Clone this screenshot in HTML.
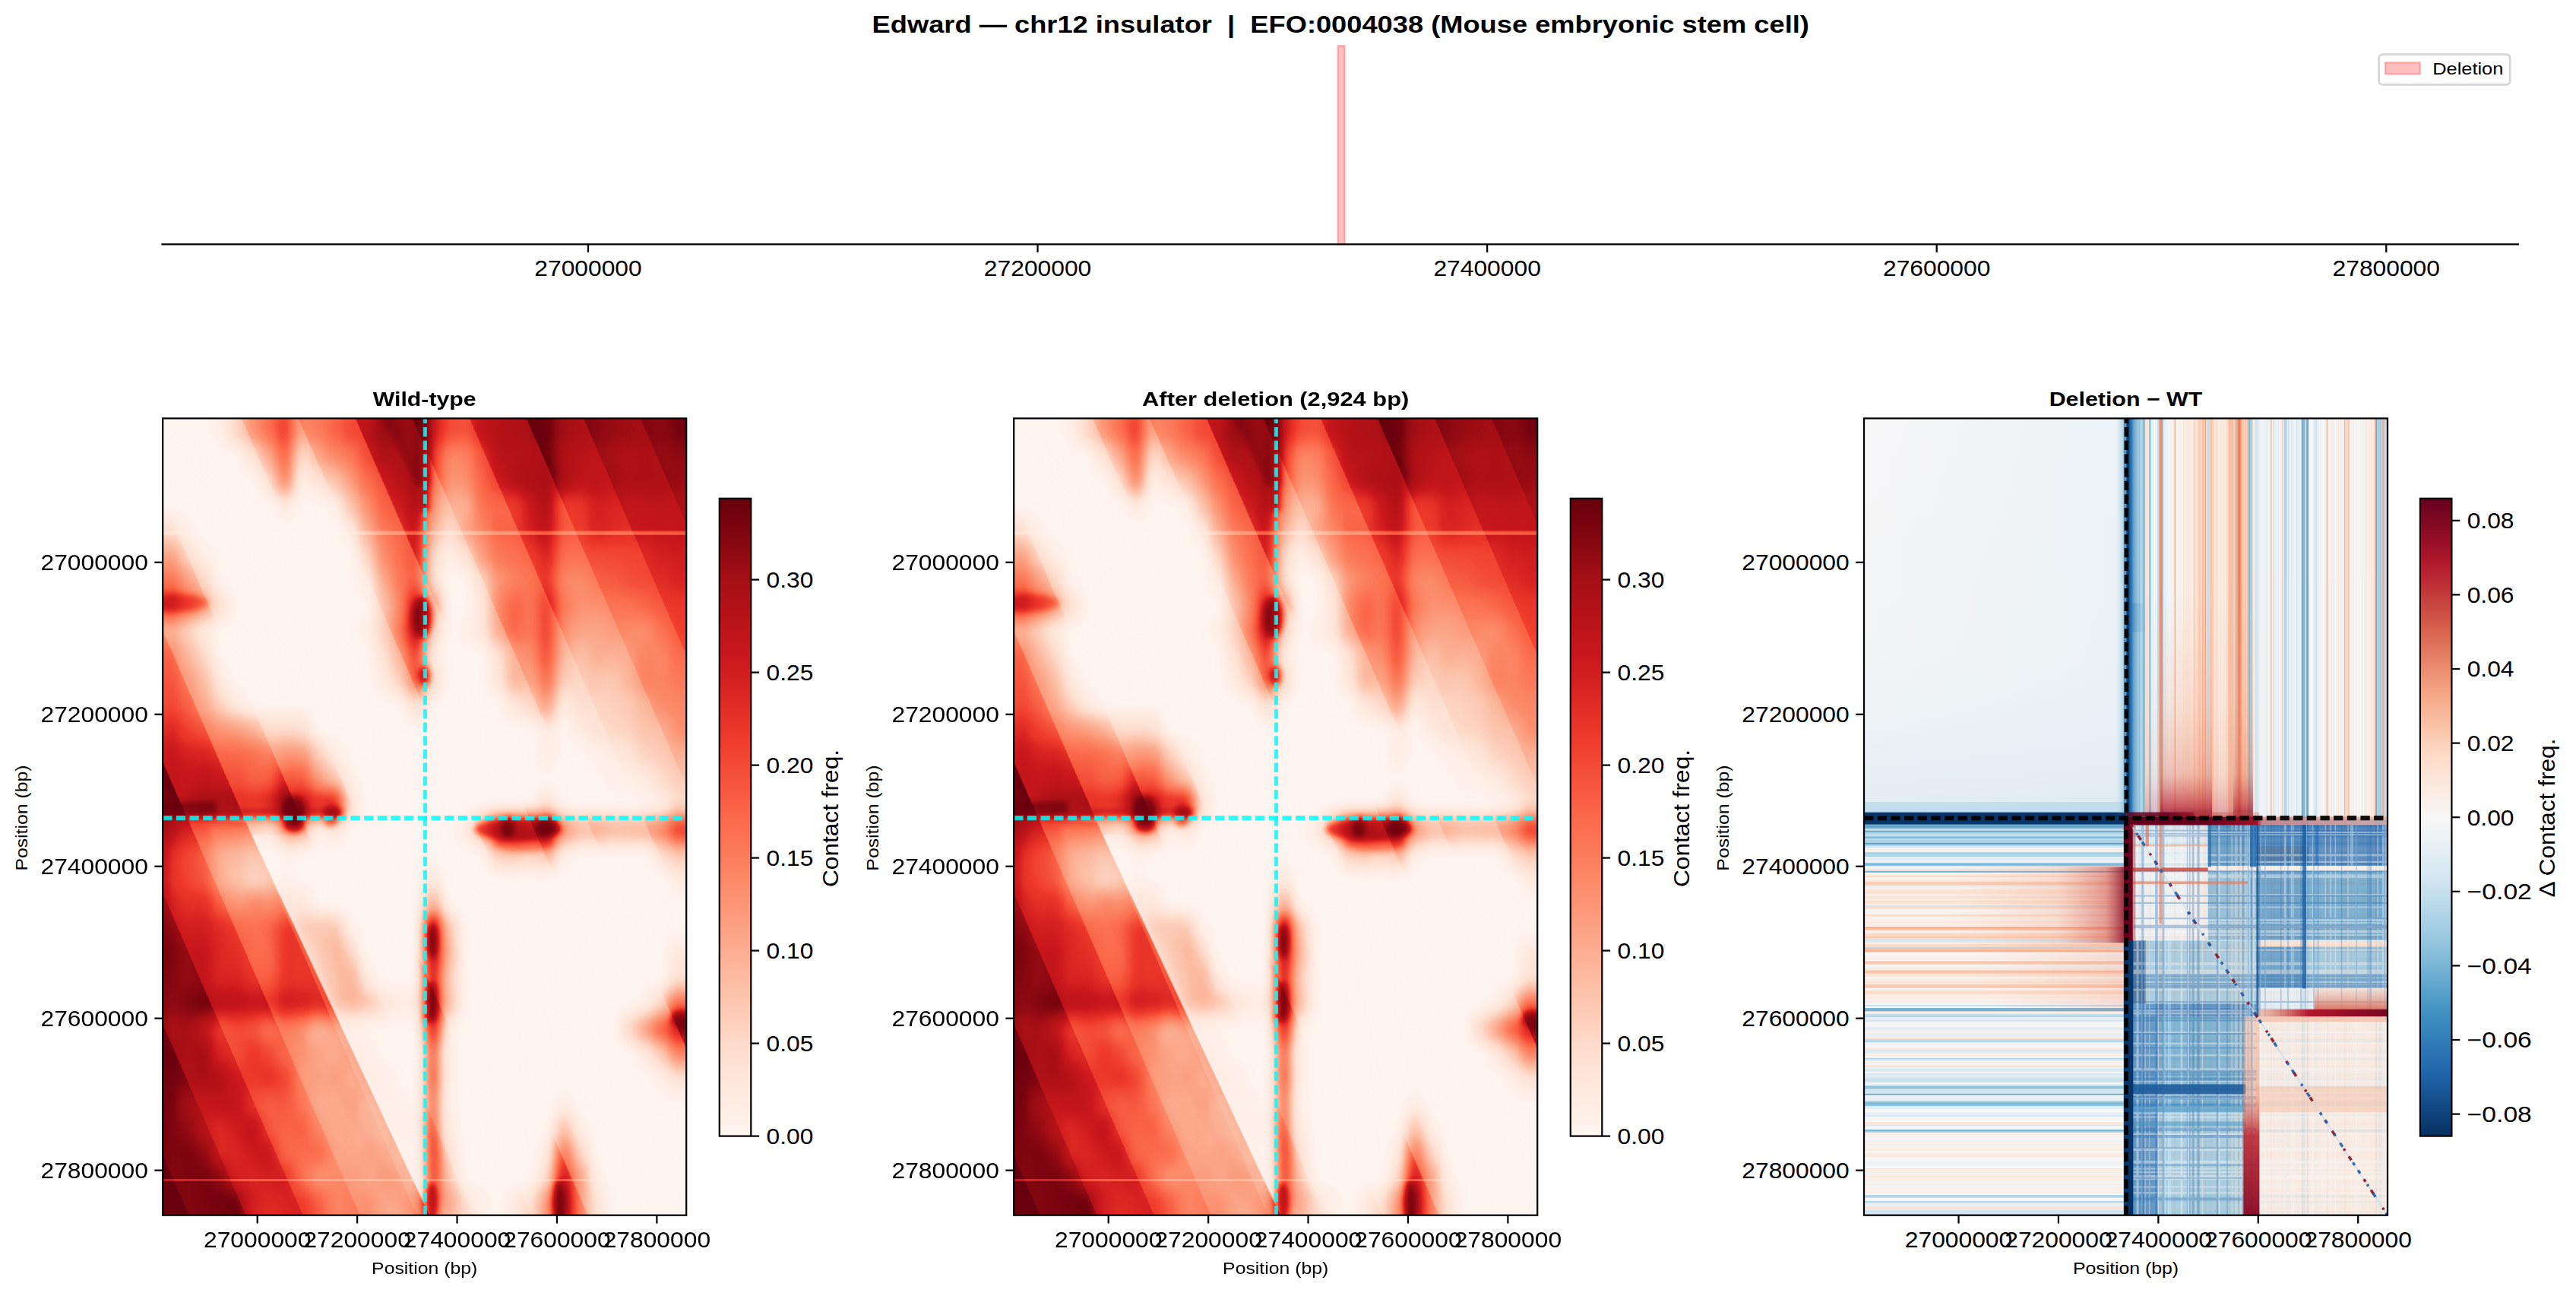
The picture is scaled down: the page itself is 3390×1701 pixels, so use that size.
<!DOCTYPE html>
<html><head><meta charset="utf-8"><title>chr12 insulator</title>
<style>html,body{margin:0;padding:0;background:#fff;overflow:hidden}svg{display:block}text{font-family:"Liberation Sans",sans-serif;fill:#000;white-space:pre}</style></head>
<body>
<svg width="3390" height="1701" viewBox="0 0 3390 1701">
<defs>
<clipPath id="cp"><rect x="0" y="0" width="689.00" height="1048.30"/></clipPath>
<filter id="bl" x="-10%" y="-10%" width="120%" height="120%" color-interpolation-filters="sRGB"><feGaussianBlur stdDeviation="7.75 11.79"/></filter>
<filter id="cmR" filterUnits="userSpaceOnUse" x="-5" y="-5" width="699.0" height="1058.3" color-interpolation-filters="sRGB"><feComponentTransfer><feFuncR type="table" tableValues="0.4039 0.4421 0.4802 0.5183 0.5641 0.6022 0.6404 0.6710 0.6944 0.7178 0.7458 0.7692 0.7926 0.8193 0.8415 0.8636 0.8902 0.9123 0.9345 0.9452 0.9526 0.9600 0.9688 0.9762 0.9836 0.9850 0.9856 0.9862 0.9870 0.9876 0.9882 0.9882 0.9882 0.9882 0.9882 0.9882 0.9882 0.9897 0.9909 0.9921 0.9936 0.9948 0.9960 0.9968 0.9974 0.9980 0.9988 0.9994 1.0000"/><feFuncG type="table" tableValues="0.0000 0.0092 0.0185 0.0277 0.0388 0.0480 0.0572 0.0645 0.0700 0.0756 0.0822 0.0878 0.0933 0.1167 0.1383 0.1598 0.1856 0.2072 0.2287 0.2625 0.2914 0.3203 0.3550 0.3839 0.4128 0.4428 0.4674 0.4920 0.5215 0.5461 0.5707 0.6009 0.6261 0.6514 0.6816 0.7069 0.7321 0.7595 0.7823 0.8050 0.8323 0.8551 0.8779 0.8936 0.9065 0.9194 0.9349 0.9479 0.9608"/><feFuncB type="table" tableValues="0.0510 0.0559 0.0608 0.0657 0.0716 0.0766 0.0815 0.0874 0.0923 0.0972 0.1031 0.1081 0.1130 0.1234 0.1326 0.1419 0.1529 0.1622 0.1714 0.1924 0.2108 0.2293 0.2514 0.2699 0.2884 0.3173 0.3419 0.3665 0.3960 0.4206 0.4452 0.4796 0.5085 0.5374 0.5721 0.6010 0.6299 0.6660 0.6962 0.7263 0.7625 0.7926 0.8228 0.8452 0.8637 0.8821 0.9043 0.9227 0.9412"/></feComponentTransfer></filter>
<filter id="b3" x="-50%" y="-50%" width="200%" height="200%" color-interpolation-filters="sRGB"><feGaussianBlur stdDeviation="3.5"/></filter>
<filter id="b6" x="-50%" y="-50%" width="200%" height="200%" color-interpolation-filters="sRGB"><feGaussianBlur stdDeviation="6"/></filter>
<linearGradient id="sawU" gradientUnits="userSpaceOnUse" x1="28.60" y1="0" x2="91.68" y2="-27.42" spreadMethod="repeat"><stop offset="0" stop-color="#fff" stop-opacity="0"/><stop offset="1" stop-color="#fff" stop-opacity="0.25"/></linearGradient>
<linearGradient id="sawL" gradientUnits="userSpaceOnUse" x1="28.60" y1="0" x2="91.68" y2="-27.42" spreadMethod="repeat"><stop offset="0" stop-color="#fff" stop-opacity="0.25"/><stop offset="1" stop-color="#fff" stop-opacity="0"/></linearGradient>
<linearGradient id="sawMg" gradientUnits="userSpaceOnUse" x1="344.5" y1="524" x2="825.5" y2="207.6" spreadMethod="reflect"><stop offset="0" stop-color="#fff"/><stop offset="0.35" stop-color="#fff"/><stop offset="1" stop-color="#2a2a2a"/></linearGradient>
<mask id="sawM" maskUnits="userSpaceOnUse" x="0" y="0" width="689.0" height="1048.3"><rect x="0" y="0" width="689.0" height="1048.3" fill="url(#sawMg)"/></mask>
<linearGradient id="weW" gradientUnits="userSpaceOnUse" x1="109.4" y1="531.7" x2="150.2" y2="512.6"><stop offset="0" stop-color="#fff" stop-opacity="0.7"/><stop offset="1" stop-color="#fff" stop-opacity="0"/></linearGradient>
<linearGradient id="weK" gradientUnits="userSpaceOnUse" x1="109.4" y1="531.7" x2="68.6" y2="550.8"><stop offset="0" stop-color="#000" stop-opacity="0.2"/><stop offset="1" stop-color="#000" stop-opacity="0"/></linearGradient>
<g id="hm1" clip-path="url(#cp)"><g filter="url(#cmR)"><rect x="-5" y="-5" width="699.0" height="1058.3" fill="#fff"/><g filter="url(#bl)"><path fill="#ffffff" d="M-64.9 -98.6h65.2v98.9h-65.2zM-0.3 -98.6h22.1v98.9h-22.1zM21.2 -98.6h22.1v98.9h-22.1zM42.8 -98.6h22.1v98.9h-22.1zM-64.9 -0.3h65.2v33.4h-65.2zM-0.3 -0.3h22.1v33.4h-22.1zM21.2 -0.3h22.1v33.4h-22.1zM42.8 -0.3h22.1v33.4h-22.1zM-64.9 32.5h65.2v33.4h-65.2zM-0.3 32.5h22.1v33.4h-22.1zM21.2 32.5h22.1v33.4h-22.1zM42.8 32.5h22.1v33.4h-22.1zM64.3 32.5h22.1v33.4h-22.1zM85.8 32.5h22.1v33.4h-22.1zM-64.9 65.2h65.2v33.4h-65.2zM-0.3 65.2h22.1v33.4h-22.1zM21.2 65.2h22.1v33.4h-22.1zM42.8 65.2h22.1v33.4h-22.1zM64.3 65.2h22.1v33.4h-22.1zM85.8 65.2h22.1v33.4h-22.1zM107.4 65.2h22.1v33.4h-22.1zM-64.9 98.0h65.2v33.4h-65.2zM-0.3 98.0h22.1v33.4h-22.1zM21.2 98.0h22.1v33.4h-22.1zM42.8 98.0h22.1v33.4h-22.1zM64.3 98.0h22.1v33.4h-22.1zM85.8 98.0h22.1v33.4h-22.1zM107.4 98.0h22.1v33.4h-22.1zM128.9 98.0h22.1v33.4h-22.1zM171.9 98.0h22.1v33.4h-22.1zM193.5 98.0h22.1v33.4h-22.1zM42.8 130.7h22.1v33.4h-22.1zM64.3 130.7h22.1v33.4h-22.1zM85.8 130.7h22.1v33.4h-22.1zM107.4 130.7h22.1v33.4h-22.1zM128.9 130.7h22.1v33.4h-22.1zM150.4 130.7h22.1v33.4h-22.1zM171.9 130.7h22.1v33.4h-22.1zM193.5 130.7h22.1v33.4h-22.1zM215.0 130.7h22.1v33.4h-22.1zM64.3 163.5h22.1v33.4h-22.1zM85.8 163.5h22.1v33.4h-22.1zM107.4 163.5h22.1v33.4h-22.1zM128.9 163.5h22.1v33.4h-22.1zM150.4 163.5h22.1v33.4h-22.1zM171.9 163.5h22.1v33.4h-22.1zM193.5 163.5h22.1v33.4h-22.1zM215.0 163.5h22.1v33.4h-22.1zM236.5 163.5h22.1v33.4h-22.1zM64.3 196.3h22.1v33.4h-22.1zM85.8 196.3h22.1v33.4h-22.1zM107.4 196.3h22.1v33.4h-22.1zM128.9 196.3h22.1v33.4h-22.1zM150.4 196.3h22.1v33.4h-22.1zM171.9 196.3h22.1v33.4h-22.1zM193.5 196.3h22.1v33.4h-22.1zM215.0 196.3h22.1v33.4h-22.1zM236.5 196.3h22.1v33.4h-22.1zM365.7 196.3h22.1v33.4h-22.1zM387.3 196.3h22.1v33.4h-22.1zM85.8 229.0h22.1v33.4h-22.1zM107.4 229.0h22.1v33.4h-22.1zM128.9 229.0h22.1v33.4h-22.1zM150.4 229.0h22.1v33.4h-22.1zM171.9 229.0h22.1v33.4h-22.1zM193.5 229.0h22.1v33.4h-22.1zM215.0 229.0h22.1v33.4h-22.1zM236.5 229.0h22.1v33.4h-22.1zM258.1 229.0h22.1v33.4h-22.1zM365.7 229.0h22.1v33.4h-22.1zM387.3 229.0h22.1v33.4h-22.1zM64.3 261.8h22.1v33.4h-22.1zM85.8 261.8h22.1v33.4h-22.1zM107.4 261.8h22.1v33.4h-22.1zM128.9 261.8h22.1v33.4h-22.1zM150.4 261.8h22.1v33.4h-22.1zM171.9 261.8h22.1v33.4h-22.1zM193.5 261.8h22.1v33.4h-22.1zM215.0 261.8h22.1v33.4h-22.1zM236.5 261.8h22.1v33.4h-22.1zM365.7 261.8h22.1v33.4h-22.1zM64.3 294.5h22.1v33.4h-22.1zM85.8 294.5h22.1v33.4h-22.1zM107.4 294.5h22.1v33.4h-22.1zM128.9 294.5h22.1v33.4h-22.1zM150.4 294.5h22.1v33.4h-22.1zM171.9 294.5h22.1v33.4h-22.1zM193.5 294.5h22.1v33.4h-22.1zM215.0 294.5h22.1v33.4h-22.1zM236.5 294.5h22.1v33.4h-22.1zM258.1 294.5h22.1v33.4h-22.1zM365.7 294.5h22.1v33.4h-22.1zM387.3 294.5h22.1v33.4h-22.1zM408.8 294.5h22.1v33.4h-22.1zM85.8 327.3h22.1v33.4h-22.1zM107.4 327.3h22.1v33.4h-22.1zM128.9 327.3h22.1v33.4h-22.1zM150.4 327.3h22.1v33.4h-22.1zM171.9 327.3h22.1v33.4h-22.1zM193.5 327.3h22.1v33.4h-22.1zM215.0 327.3h22.1v33.4h-22.1zM236.5 327.3h22.1v33.4h-22.1zM258.1 327.3h22.1v33.4h-22.1zM365.7 327.3h22.1v33.4h-22.1zM387.3 327.3h22.1v33.4h-22.1zM408.8 327.3h22.1v33.4h-22.1zM107.4 360.1h22.1v33.4h-22.1zM128.9 360.1h22.1v33.4h-22.1zM150.4 360.1h22.1v33.4h-22.1zM171.9 360.1h22.1v33.4h-22.1zM193.5 360.1h22.1v33.4h-22.1zM215.0 360.1h22.1v33.4h-22.1zM236.5 360.1h22.1v33.4h-22.1zM258.1 360.1h22.1v33.4h-22.1zM279.6 360.1h22.1v33.4h-22.1zM301.1 360.1h22.1v33.4h-22.1zM344.2 360.1h22.1v33.4h-22.1zM365.7 360.1h22.1v33.4h-22.1zM387.3 360.1h22.1v33.4h-22.1zM408.8 360.1h22.1v33.4h-22.1zM430.3 360.1h22.1v33.4h-22.1zM193.5 392.8h22.1v33.4h-22.1zM215.0 392.8h22.1v33.4h-22.1zM236.5 392.8h22.1v33.4h-22.1zM258.1 392.8h22.1v33.4h-22.1zM279.6 392.8h22.1v33.4h-22.1zM301.1 392.8h22.1v33.4h-22.1zM322.7 392.8h22.1v33.4h-22.1zM344.2 392.8h22.1v33.4h-22.1zM365.7 392.8h22.1v33.4h-22.1zM387.3 392.8h22.1v33.4h-22.1zM408.8 392.8h22.1v33.4h-22.1zM430.3 392.8h22.1v33.4h-22.1zM451.9 392.8h22.1v33.4h-22.1zM473.4 392.8h22.1v33.4h-22.1zM516.5 392.8h22.1v33.4h-22.1zM236.5 425.6h22.1v33.4h-22.1zM258.1 425.6h22.1v33.4h-22.1zM279.6 425.6h22.1v33.4h-22.1zM301.1 425.6h22.1v33.4h-22.1zM322.7 425.6h22.1v33.4h-22.1zM344.2 425.6h22.1v33.4h-22.1zM365.7 425.6h22.1v33.4h-22.1zM387.3 425.6h22.1v33.4h-22.1zM408.8 425.6h22.1v33.4h-22.1zM430.3 425.6h22.1v33.4h-22.1zM451.9 425.6h22.1v33.4h-22.1zM473.4 425.6h22.1v33.4h-22.1zM516.5 425.6h22.1v33.4h-22.1zM538.0 425.6h22.1v33.4h-22.1zM258.1 458.3h22.1v33.4h-22.1zM279.6 458.3h22.1v33.4h-22.1zM301.1 458.3h22.1v33.4h-22.1zM322.7 458.3h22.1v33.4h-22.1zM344.2 458.3h22.1v33.4h-22.1zM365.7 458.3h22.1v33.4h-22.1zM387.3 458.3h22.1v33.4h-22.1zM408.8 458.3h22.1v33.4h-22.1zM430.3 458.3h22.1v33.4h-22.1zM451.9 458.3h22.1v33.4h-22.1zM473.4 458.3h22.1v33.4h-22.1zM494.9 458.3h22.1v33.4h-22.1zM516.5 458.3h22.1v33.4h-22.1zM538.0 458.3h22.1v33.4h-22.1zM559.5 458.3h22.1v33.4h-22.1zM258.1 491.1h22.1v33.4h-22.1zM279.6 491.1h22.1v33.4h-22.1zM301.1 491.1h22.1v33.4h-22.1zM322.7 491.1h22.1v33.4h-22.1zM344.2 491.1h22.1v33.4h-22.1zM365.7 491.1h22.1v33.4h-22.1zM387.3 491.1h22.1v33.4h-22.1zM408.8 491.1h22.1v33.4h-22.1zM430.3 491.1h22.1v33.4h-22.1zM451.9 491.1h22.1v33.4h-22.1zM473.4 491.1h22.1v33.4h-22.1zM516.5 491.1h22.1v33.4h-22.1zM538.0 491.1h22.1v33.4h-22.1zM559.5 491.1h22.1v33.4h-22.1zM581.0 491.1h22.1v33.4h-22.1zM602.6 491.1h22.1v33.4h-22.1zM624.1 491.1h22.1v33.4h-22.1zM236.5 523.9h22.1v33.4h-22.1zM258.1 523.9h22.1v33.4h-22.1zM279.6 523.9h22.1v33.4h-22.1zM301.1 523.9h22.1v33.4h-22.1zM322.7 523.9h22.1v33.4h-22.1zM344.2 523.9h22.1v33.4h-22.1zM365.7 523.9h22.1v33.4h-22.1zM128.9 556.6h22.1v33.4h-22.1zM171.9 556.6h22.1v33.4h-22.1zM193.5 556.6h22.1v33.4h-22.1zM215.0 556.6h22.1v33.4h-22.1zM236.5 556.6h22.1v33.4h-22.1zM258.1 556.6h22.1v33.4h-22.1zM279.6 556.6h22.1v33.4h-22.1zM301.1 556.6h22.1v33.4h-22.1zM322.7 556.6h22.1v33.4h-22.1zM344.2 556.6h22.1v33.4h-22.1zM365.7 556.6h22.1v33.4h-22.1zM387.3 556.6h22.1v33.4h-22.1zM408.8 556.6h22.1v33.4h-22.1zM538.0 556.6h22.1v33.4h-22.1zM559.5 556.6h22.1v33.4h-22.1zM581.0 556.6h22.1v33.4h-22.1zM602.6 556.6h22.1v33.4h-22.1zM624.1 556.6h22.1v33.4h-22.1zM128.9 589.4h22.1v33.4h-22.1zM171.9 589.4h22.1v33.4h-22.1zM193.5 589.4h22.1v33.4h-22.1zM215.0 589.4h22.1v33.4h-22.1zM236.5 589.4h22.1v33.4h-22.1zM258.1 589.4h22.1v33.4h-22.1zM279.6 589.4h22.1v33.4h-22.1zM301.1 589.4h22.1v33.4h-22.1zM322.7 589.4h22.1v33.4h-22.1zM365.7 589.4h22.1v33.4h-22.1zM387.3 589.4h22.1v33.4h-22.1zM408.8 589.4h22.1v33.4h-22.1zM430.3 589.4h22.1v33.4h-22.1zM451.9 589.4h22.1v33.4h-22.1zM473.4 589.4h22.1v33.4h-22.1zM494.9 589.4h22.1v33.4h-22.1zM516.5 589.4h22.1v33.4h-22.1zM538.0 589.4h22.1v33.4h-22.1zM559.5 589.4h22.1v33.4h-22.1zM581.0 589.4h22.1v33.4h-22.1zM602.6 589.4h22.1v33.4h-22.1zM624.1 589.4h22.1v33.4h-22.1zM645.6 589.4h22.1v33.4h-22.1zM193.5 622.1h22.1v33.4h-22.1zM215.0 622.1h22.1v33.4h-22.1zM236.5 622.1h22.1v33.4h-22.1zM258.1 622.1h22.1v33.4h-22.1zM279.6 622.1h22.1v33.4h-22.1zM301.1 622.1h22.1v33.4h-22.1zM322.7 622.1h22.1v33.4h-22.1zM365.7 622.1h22.1v33.4h-22.1zM387.3 622.1h22.1v33.4h-22.1zM408.8 622.1h22.1v33.4h-22.1zM430.3 622.1h22.1v33.4h-22.1zM451.9 622.1h22.1v33.4h-22.1zM473.4 622.1h22.1v33.4h-22.1zM494.9 622.1h22.1v33.4h-22.1zM516.5 622.1h22.1v33.4h-22.1zM538.0 622.1h22.1v33.4h-22.1zM559.5 622.1h22.1v33.4h-22.1zM581.0 622.1h22.1v33.4h-22.1zM602.6 622.1h22.1v33.4h-22.1zM624.1 622.1h22.1v33.4h-22.1zM645.6 622.1h22.1v33.4h-22.1zM667.2 622.1h22.1v33.4h-22.1zM688.7 622.1h65.2v33.4h-65.2zM258.1 654.9h22.1v33.4h-22.1zM279.6 654.9h22.1v33.4h-22.1zM301.1 654.9h22.1v33.4h-22.1zM322.7 654.9h22.1v33.4h-22.1zM387.3 654.9h22.1v33.4h-22.1zM408.8 654.9h22.1v33.4h-22.1zM430.3 654.9h22.1v33.4h-22.1zM451.9 654.9h22.1v33.4h-22.1zM473.4 654.9h22.1v33.4h-22.1zM494.9 654.9h22.1v33.4h-22.1zM516.5 654.9h22.1v33.4h-22.1zM538.0 654.9h22.1v33.4h-22.1zM559.5 654.9h22.1v33.4h-22.1zM581.0 654.9h22.1v33.4h-22.1zM602.6 654.9h22.1v33.4h-22.1zM624.1 654.9h22.1v33.4h-22.1zM645.6 654.9h22.1v33.4h-22.1zM667.2 654.9h22.1v33.4h-22.1zM688.7 654.9h65.2v33.4h-65.2zM258.1 687.6h22.1v33.4h-22.1zM279.6 687.6h22.1v33.4h-22.1zM301.1 687.6h22.1v33.4h-22.1zM322.7 687.6h22.1v33.4h-22.1zM387.3 687.6h22.1v33.4h-22.1zM408.8 687.6h22.1v33.4h-22.1zM430.3 687.6h22.1v33.4h-22.1zM451.9 687.6h22.1v33.4h-22.1zM473.4 687.6h22.1v33.4h-22.1zM494.9 687.6h22.1v33.4h-22.1zM516.5 687.6h22.1v33.4h-22.1zM538.0 687.6h22.1v33.4h-22.1zM559.5 687.6h22.1v33.4h-22.1zM581.0 687.6h22.1v33.4h-22.1zM602.6 687.6h22.1v33.4h-22.1zM624.1 687.6h22.1v33.4h-22.1zM645.6 687.6h22.1v33.4h-22.1zM279.6 720.4h22.1v33.4h-22.1zM301.1 720.4h22.1v33.4h-22.1zM322.7 720.4h22.1v33.4h-22.1zM387.3 720.4h22.1v33.4h-22.1zM408.8 720.4h22.1v33.4h-22.1zM430.3 720.4h22.1v33.4h-22.1zM451.9 720.4h22.1v33.4h-22.1zM473.4 720.4h22.1v33.4h-22.1zM494.9 720.4h22.1v33.4h-22.1zM516.5 720.4h22.1v33.4h-22.1zM538.0 720.4h22.1v33.4h-22.1zM559.5 720.4h22.1v33.4h-22.1zM581.0 720.4h22.1v33.4h-22.1zM602.6 720.4h22.1v33.4h-22.1zM624.1 720.4h22.1v33.4h-22.1zM645.6 720.4h22.1v33.4h-22.1zM387.3 753.2h22.1v33.4h-22.1zM408.8 753.2h22.1v33.4h-22.1zM430.3 753.2h22.1v33.4h-22.1zM451.9 753.2h22.1v33.4h-22.1zM473.4 753.2h22.1v33.4h-22.1zM494.9 753.2h22.1v33.4h-22.1zM516.5 753.2h22.1v33.4h-22.1zM538.0 753.2h22.1v33.4h-22.1zM559.5 753.2h22.1v33.4h-22.1zM581.0 753.2h22.1v33.4h-22.1zM602.6 753.2h22.1v33.4h-22.1zM258.1 785.9h22.1v33.4h-22.1zM279.6 785.9h22.1v33.4h-22.1zM301.1 785.9h22.1v33.4h-22.1zM322.7 785.9h22.1v33.4h-22.1zM387.3 785.9h22.1v33.4h-22.1zM408.8 785.9h22.1v33.4h-22.1zM430.3 785.9h22.1v33.4h-22.1zM451.9 785.9h22.1v33.4h-22.1zM473.4 785.9h22.1v33.4h-22.1zM494.9 785.9h22.1v33.4h-22.1zM516.5 785.9h22.1v33.4h-22.1zM538.0 785.9h22.1v33.4h-22.1zM559.5 785.9h22.1v33.4h-22.1zM581.0 785.9h22.1v33.4h-22.1zM279.6 818.7h22.1v33.4h-22.1zM301.1 818.7h22.1v33.4h-22.1zM322.7 818.7h22.1v33.4h-22.1zM387.3 818.7h22.1v33.4h-22.1zM408.8 818.7h22.1v33.4h-22.1zM430.3 818.7h22.1v33.4h-22.1zM451.9 818.7h22.1v33.4h-22.1zM473.4 818.7h22.1v33.4h-22.1zM494.9 818.7h22.1v33.4h-22.1zM516.5 818.7h22.1v33.4h-22.1zM538.0 818.7h22.1v33.4h-22.1zM559.5 818.7h22.1v33.4h-22.1zM581.0 818.7h22.1v33.4h-22.1zM602.6 818.7h22.1v33.4h-22.1zM301.1 851.4h22.1v33.4h-22.1zM322.7 851.4h22.1v33.4h-22.1zM387.3 851.4h22.1v33.4h-22.1zM408.8 851.4h22.1v33.4h-22.1zM430.3 851.4h22.1v33.4h-22.1zM451.9 851.4h22.1v33.4h-22.1zM473.4 851.4h22.1v33.4h-22.1zM494.9 851.4h22.1v33.4h-22.1zM516.5 851.4h22.1v33.4h-22.1zM538.0 851.4h22.1v33.4h-22.1zM559.5 851.4h22.1v33.4h-22.1zM581.0 851.4h22.1v33.4h-22.1zM602.6 851.4h22.1v33.4h-22.1zM624.1 851.4h22.1v33.4h-22.1zM322.7 884.2h22.1v33.4h-22.1zM387.3 884.2h22.1v33.4h-22.1zM408.8 884.2h22.1v33.4h-22.1zM430.3 884.2h22.1v33.4h-22.1zM451.9 884.2h22.1v33.4h-22.1zM473.4 884.2h22.1v33.4h-22.1zM494.9 884.2h22.1v33.4h-22.1zM538.0 884.2h22.1v33.4h-22.1zM559.5 884.2h22.1v33.4h-22.1zM581.0 884.2h22.1v33.4h-22.1zM602.6 884.2h22.1v33.4h-22.1zM624.1 884.2h22.1v33.4h-22.1zM645.6 884.2h22.1v33.4h-22.1zM667.2 884.2h22.1v33.4h-22.1zM688.7 884.2h65.2v33.4h-65.2zM387.3 917.0h22.1v33.4h-22.1zM408.8 917.0h22.1v33.4h-22.1zM430.3 917.0h22.1v33.4h-22.1zM451.9 917.0h22.1v33.4h-22.1zM473.4 917.0h22.1v33.4h-22.1zM494.9 917.0h22.1v33.4h-22.1zM559.5 917.0h22.1v33.4h-22.1zM581.0 917.0h22.1v33.4h-22.1zM602.6 917.0h22.1v33.4h-22.1zM624.1 917.0h22.1v33.4h-22.1zM645.6 917.0h22.1v33.4h-22.1zM667.2 917.0h22.1v33.4h-22.1zM688.7 917.0h65.2v33.4h-65.2zM322.7 949.7h22.1v33.4h-22.1zM387.3 949.7h22.1v33.4h-22.1zM408.8 949.7h22.1v33.4h-22.1zM430.3 949.7h22.1v33.4h-22.1zM451.9 949.7h22.1v33.4h-22.1zM473.4 949.7h22.1v33.4h-22.1zM559.5 949.7h22.1v33.4h-22.1zM581.0 949.7h22.1v33.4h-22.1zM602.6 949.7h22.1v33.4h-22.1zM624.1 949.7h22.1v33.4h-22.1zM645.6 949.7h22.1v33.4h-22.1zM667.2 949.7h22.1v33.4h-22.1zM688.7 949.7h65.2v33.4h-65.2zM387.3 982.5h22.1v33.4h-22.1zM408.8 982.5h22.1v33.4h-22.1zM430.3 982.5h22.1v33.4h-22.1zM451.9 982.5h22.1v33.4h-22.1zM473.4 982.5h22.1v33.4h-22.1zM581.0 982.5h22.1v33.4h-22.1zM602.6 982.5h22.1v33.4h-22.1zM624.1 982.5h22.1v33.4h-22.1zM645.6 982.5h22.1v33.4h-22.1zM667.2 982.5h22.1v33.4h-22.1zM688.7 982.5h65.2v33.4h-65.2zM430.3 1015.2h22.1v33.4h-22.1zM581.0 1015.2h22.1v33.4h-22.1zM602.6 1015.2h22.1v33.4h-22.1zM624.1 1015.2h22.1v33.4h-22.1zM645.6 1015.2h22.1v33.4h-22.1zM667.2 1015.2h22.1v33.4h-22.1zM688.7 1015.2h65.2v33.4h-65.2zM430.3 1048.0h22.1v98.9h-22.1zM581.0 1048.0h22.1v98.9h-22.1zM602.6 1048.0h22.1v98.9h-22.1zM624.1 1048.0h22.1v98.9h-22.1zM645.6 1048.0h22.1v98.9h-22.1zM667.2 1048.0h22.1v98.9h-22.1zM688.7 1048.0h65.2v98.9h-65.2z"/><path fill="#f7f7f7" d="M64.3 -98.6h22.1v98.9h-22.1zM64.3 -0.3h22.1v33.4h-22.1zM171.9 65.2h22.1v33.4h-22.1zM215.0 98.0h22.1v33.4h-22.1zM21.2 130.7h22.1v33.4h-22.1zM42.8 163.5h22.1v33.4h-22.1zM365.7 163.5h22.1v33.4h-22.1zM258.1 261.8h22.1v33.4h-22.1zM387.3 261.8h22.1v33.4h-22.1zM559.5 425.6h22.1v33.4h-22.1zM236.5 458.3h22.1v33.4h-22.1zM581.0 458.3h22.1v33.4h-22.1zM602.6 458.3h22.1v33.4h-22.1zM645.6 491.1h22.1v33.4h-22.1zM193.5 523.9h22.1v33.4h-22.1zM150.4 556.6h22.1v33.4h-22.1zM516.5 556.6h22.1v33.4h-22.1zM150.4 589.4h22.1v33.4h-22.1zM236.5 654.9h22.1v33.4h-22.1zM624.1 753.2h22.1v33.4h-22.1zM365.7 785.9h22.1v33.4h-22.1zM365.7 818.7h22.1v33.4h-22.1zM365.7 851.4h22.1v33.4h-22.1zM645.6 851.4h22.1v33.4h-22.1zM301.1 884.2h22.1v33.4h-22.1zM365.7 884.2h22.1v33.4h-22.1zM516.5 884.2h22.1v33.4h-22.1zM322.7 917.0h22.1v33.4h-22.1zM538.0 917.0h22.1v33.4h-22.1zM322.7 982.5h22.1v33.4h-22.1zM559.5 982.5h22.1v33.4h-22.1zM408.8 1015.2h22.1v33.4h-22.1zM408.8 1048.0h22.1v98.9h-22.1z"/><path fill="#cfcfcf" d="M85.8 -98.6h22.1v98.9h-22.1zM85.8 -0.3h22.1v33.4h-22.1zM42.8 196.3h22.1v33.4h-22.1zM21.2 261.8h22.1v33.4h-22.1zM538.0 327.3h22.1v33.4h-22.1zM64.3 360.1h22.1v33.4h-22.1zM473.4 360.1h22.1v33.4h-22.1zM581.0 360.1h22.1v33.4h-22.1zM602.6 392.8h22.1v33.4h-22.1zM193.5 425.6h22.1v33.4h-22.1zM624.1 425.6h22.1v33.4h-22.1zM430.3 556.6h22.1v33.4h-22.1zM473.4 556.6h22.1v33.4h-22.1zM645.6 753.2h22.1v33.4h-22.1zM215.0 785.9h22.1v33.4h-22.1zM236.5 818.7h22.1v33.4h-22.1zM236.5 851.4h22.1v33.4h-22.1zM538.0 949.7h22.1v33.4h-22.1zM365.7 982.5h22.1v33.4h-22.1z"/><path fill="#9f9f9f" d="M107.4 -98.6h22.1v98.9h-22.1zM107.4 -0.3h22.1v33.4h-22.1zM236.5 65.2h22.1v33.4h-22.1zM365.7 65.2h22.1v33.4h-22.1zM430.3 196.3h22.1v33.4h-22.1zM42.8 229.0h22.1v33.4h-22.1zM344.2 229.0h22.1v33.4h-22.1zM430.3 261.8h22.1v33.4h-22.1zM516.5 261.8h22.1v33.4h-22.1zM42.8 360.1h22.1v33.4h-22.1zM85.8 392.8h22.1v33.4h-22.1zM193.5 458.3h22.1v33.4h-22.1zM85.8 523.9h22.1v33.4h-22.1zM150.4 523.9h22.1v33.4h-22.1zM624.1 785.9h22.1v33.4h-22.1zM344.2 818.7h22.1v33.4h-22.1zM193.5 851.4h22.1v33.4h-22.1zM215.0 949.7h22.1v33.4h-22.1zM193.5 982.5h22.1v33.4h-22.1z"/><path fill="#787878" d="M128.9 -98.6h22.1v98.9h-22.1zM128.9 -0.3h22.1v33.4h-22.1zM236.5 32.5h22.1v33.4h-22.1zM408.8 98.0h22.1v33.4h-22.1zM279.6 130.7h22.1v33.4h-22.1zM516.5 163.5h22.1v33.4h-22.1zM-64.9 196.3h65.2v33.4h-65.2zM-0.3 196.3h22.1v33.4h-22.1zM301.1 196.3h22.1v33.4h-22.1zM559.5 196.3h22.1v33.4h-22.1zM473.4 229.0h22.1v33.4h-22.1zM451.9 261.8h22.1v33.4h-22.1zM645.6 261.8h22.1v33.4h-22.1zM-64.9 294.5h65.2v33.4h-65.2zM-0.3 294.5h22.1v33.4h-22.1zM494.9 327.3h22.1v33.4h-22.1zM21.2 360.1h22.1v33.4h-22.1zM107.4 425.6h22.1v33.4h-22.1zM42.8 556.6h22.1v33.4h-22.1zM64.3 622.1h22.1v33.4h-22.1zM128.9 654.9h22.1v33.4h-22.1zM171.9 654.9h22.1v33.4h-22.1zM667.2 753.2h22.1v33.4h-22.1zM688.7 753.2h65.2v33.4h-65.2zM150.4 785.9h22.1v33.4h-22.1zM667.2 818.7h22.1v33.4h-22.1zM688.7 818.7h65.2v33.4h-65.2zM171.9 949.7h22.1v33.4h-22.1zM193.5 949.7h22.1v33.4h-22.1zM171.9 982.5h22.1v33.4h-22.1z"/><path fill="#404040" d="M150.4 -98.6h22.1v98.9h-22.1zM236.5 -98.6h22.1v98.9h-22.1zM150.4 -0.3h22.1v33.4h-22.1zM236.5 -0.3h22.1v33.4h-22.1zM258.1 32.5h22.1v33.4h-22.1zM279.6 65.2h22.1v33.4h-22.1zM430.3 65.2h22.1v33.4h-22.1zM301.1 98.0h22.1v33.4h-22.1zM473.4 130.7h22.1v33.4h-22.1zM559.5 130.7h22.1v33.4h-22.1zM581.0 130.7h22.1v33.4h-22.1zM602.6 130.7h22.1v33.4h-22.1zM322.7 163.5h22.1v33.4h-22.1zM494.9 163.5h22.1v33.4h-22.1zM645.6 163.5h22.1v33.4h-22.1zM667.2 196.3h22.1v33.4h-22.1zM688.7 196.3h65.2v33.4h-65.2zM494.9 229.0h22.1v33.4h-22.1zM42.8 425.6h22.1v33.4h-22.1zM667.2 523.9h22.1v33.4h-22.1zM688.7 523.9h65.2v33.4h-65.2zM-64.9 556.6h65.2v33.4h-65.2zM-0.3 556.6h22.1v33.4h-22.1zM-64.9 589.4h65.2v33.4h-65.2zM-0.3 589.4h22.1v33.4h-22.1zM21.2 622.1h22.1v33.4h-22.1zM64.3 687.6h22.1v33.4h-22.1zM85.8 720.4h22.1v33.4h-22.1zM85.8 851.4h22.1v33.4h-22.1zM64.3 917.0h22.1v33.4h-22.1zM64.3 949.7h22.1v33.4h-22.1zM85.8 949.7h22.1v33.4h-22.1zM107.4 982.5h22.1v33.4h-22.1zM128.9 982.5h22.1v33.4h-22.1zM150.4 982.5h22.1v33.4h-22.1zM344.2 982.5h22.1v33.4h-22.1z"/><path fill="#979797" d="M171.9 -98.6h22.1v98.9h-22.1zM171.9 -0.3h22.1v33.4h-22.1zM387.3 65.2h22.1v33.4h-22.1zM430.3 229.0h22.1v33.4h-22.1zM538.0 229.0h22.1v33.4h-22.1zM581.0 261.8h22.1v33.4h-22.1zM602.6 261.8h22.1v33.4h-22.1zM624.1 261.8h22.1v33.4h-22.1zM473.4 294.5h22.1v33.4h-22.1zM645.6 360.1h22.1v33.4h-22.1zM667.2 392.8h22.1v33.4h-22.1zM688.7 392.8h65.2v33.4h-65.2zM171.9 425.6h22.1v33.4h-22.1zM171.9 851.4h22.1v33.4h-22.1zM193.5 917.0h22.1v33.4h-22.1zM215.0 982.5h22.1v33.4h-22.1zM236.5 982.5h22.1v33.4h-22.1zM538.0 982.5h22.1v33.4h-22.1zM365.7 1015.2h22.1v33.4h-22.1zM365.7 1048.0h22.1v98.9h-22.1z"/><path fill="#878787" d="M193.5 -98.6h22.1v98.9h-22.1zM193.5 -0.3h22.1v33.4h-22.1zM387.3 32.5h22.1v33.4h-22.1zM451.9 196.3h22.1v33.4h-22.1zM516.5 229.0h22.1v33.4h-22.1zM581.0 229.0h22.1v33.4h-22.1zM301.1 261.8h22.1v33.4h-22.1zM64.3 523.9h22.1v33.4h-22.1zM128.9 785.9h22.1v33.4h-22.1zM171.9 884.2h22.1v33.4h-22.1z"/><path fill="#686868" d="M215.0 -98.6h22.1v98.9h-22.1zM215.0 -0.3h22.1v33.4h-22.1zM150.4 32.5h22.1v33.4h-22.1zM258.1 65.2h22.1v33.4h-22.1zM344.2 65.2h22.1v33.4h-22.1zM408.8 65.2h22.1v33.4h-22.1zM430.3 98.0h22.1v33.4h-22.1zM430.3 130.7h22.1v33.4h-22.1zM301.1 163.5h22.1v33.4h-22.1zM559.5 163.5h22.1v33.4h-22.1zM-64.9 327.3h65.2v33.4h-65.2zM-0.3 327.3h22.1v33.4h-22.1zM322.7 327.3h22.1v33.4h-22.1zM85.8 425.6h22.1v33.4h-22.1zM107.4 458.3h22.1v33.4h-22.1zM150.4 654.9h22.1v33.4h-22.1zM107.4 687.6h22.1v33.4h-22.1zM107.4 785.9h22.1v33.4h-22.1zM128.9 884.2h22.1v33.4h-22.1zM150.4 884.2h22.1v33.4h-22.1zM344.2 949.7h22.1v33.4h-22.1zM516.5 949.7h22.1v33.4h-22.1zM193.5 1015.2h22.1v33.4h-22.1zM193.5 1048.0h22.1v98.9h-22.1z"/><path fill="#303030" d="M258.1 -98.6h22.1v98.9h-22.1zM344.2 -98.6h22.1v98.9h-22.1zM408.8 -98.6h22.1v98.9h-22.1zM258.1 -0.3h22.1v33.4h-22.1zM344.2 -0.3h22.1v33.4h-22.1zM408.8 -0.3h22.1v33.4h-22.1zM473.4 98.0h22.1v33.4h-22.1zM624.1 98.0h22.1v33.4h-22.1zM322.7 130.7h22.1v33.4h-22.1zM645.6 130.7h22.1v33.4h-22.1zM-64.9 229.0h65.2v33.4h-65.2zM-0.3 229.0h22.1v33.4h-22.1zM-64.9 392.8h65.2v33.4h-65.2zM-0.3 392.8h22.1v33.4h-22.1zM21.2 425.6h22.1v33.4h-22.1zM107.4 491.1h22.1v33.4h-22.1zM128.9 491.1h22.1v33.4h-22.1zM193.5 491.1h22.1v33.4h-22.1zM215.0 491.1h22.1v33.4h-22.1zM430.3 523.9h22.1v33.4h-22.1zM42.8 654.9h22.1v33.4h-22.1zM344.2 720.4h22.1v33.4h-22.1zM107.4 753.2h22.1v33.4h-22.1zM42.8 785.9h22.1v33.4h-22.1zM85.8 884.2h22.1v33.4h-22.1zM42.8 917.0h22.1v33.4h-22.1zM107.4 917.0h22.1v33.4h-22.1zM516.5 982.5h22.1v33.4h-22.1z"/><path fill="#000000" d="M279.6 -98.6h22.1v98.9h-22.1zM301.1 -98.6h22.1v98.9h-22.1zM322.7 -98.6h22.1v98.9h-22.1zM473.4 -98.6h22.1v98.9h-22.1zM494.9 -98.6h22.1v98.9h-22.1zM667.2 -98.6h22.1v98.9h-22.1zM688.7 -98.6h65.2v98.9h-65.2zM279.6 -0.3h22.1v33.4h-22.1zM301.1 -0.3h22.1v33.4h-22.1zM322.7 -0.3h22.1v33.4h-22.1zM473.4 -0.3h22.1v33.4h-22.1zM494.9 -0.3h22.1v33.4h-22.1zM667.2 -0.3h22.1v33.4h-22.1zM688.7 -0.3h65.2v33.4h-65.2zM322.7 32.5h22.1v33.4h-22.1zM494.9 32.5h22.1v33.4h-22.1zM322.7 65.2h22.1v33.4h-22.1zM494.9 65.2h22.1v33.4h-22.1zM-64.9 458.3h65.2v33.4h-65.2zM-0.3 458.3h22.1v33.4h-22.1zM-64.9 491.1h65.2v33.4h-65.2zM-0.3 491.1h22.1v33.4h-22.1zM21.2 491.1h22.1v33.4h-22.1zM42.8 491.1h22.1v33.4h-22.1zM150.4 491.1h22.1v33.4h-22.1zM171.9 491.1h22.1v33.4h-22.1zM494.9 523.9h22.1v33.4h-22.1zM-64.9 687.6h65.2v33.4h-65.2zM-0.3 687.6h22.1v33.4h-22.1zM-64.9 720.4h65.2v33.4h-65.2zM-0.3 720.4h22.1v33.4h-22.1zM-64.9 753.2h65.2v33.4h-65.2zM-0.3 753.2h22.1v33.4h-22.1zM21.2 753.2h22.1v33.4h-22.1zM42.8 753.2h22.1v33.4h-22.1zM667.2 785.9h22.1v33.4h-22.1zM688.7 785.9h65.2v33.4h-65.2zM-64.9 818.7h65.2v33.4h-65.2zM-0.3 818.7h22.1v33.4h-22.1zM-64.9 851.4h65.2v33.4h-65.2zM-0.3 851.4h22.1v33.4h-22.1zM-64.9 884.2h65.2v33.4h-65.2zM-0.3 884.2h22.1v33.4h-22.1zM-64.9 917.0h65.2v33.4h-65.2zM-0.3 917.0h22.1v33.4h-22.1zM-64.9 949.7h65.2v33.4h-65.2zM-0.3 949.7h22.1v33.4h-22.1zM21.2 949.7h22.1v33.4h-22.1zM-64.9 982.5h65.2v33.4h-65.2zM-0.3 982.5h22.1v33.4h-22.1zM21.2 982.5h22.1v33.4h-22.1zM42.8 982.5h22.1v33.4h-22.1zM-64.9 1015.2h65.2v33.4h-65.2zM-0.3 1015.2h22.1v33.4h-22.1zM21.2 1015.2h22.1v33.4h-22.1zM42.8 1015.2h22.1v33.4h-22.1zM64.3 1015.2h22.1v33.4h-22.1zM85.8 1015.2h22.1v33.4h-22.1zM516.5 1015.2h22.1v33.4h-22.1zM-64.9 1048.0h65.2v98.9h-65.2zM-0.3 1048.0h22.1v98.9h-22.1zM21.2 1048.0h22.1v98.9h-22.1zM42.8 1048.0h22.1v98.9h-22.1zM64.3 1048.0h22.1v98.9h-22.1zM85.8 1048.0h22.1v98.9h-22.1zM516.5 1048.0h22.1v98.9h-22.1z"/><path fill="#585858" d="M365.7 -98.6h22.1v98.9h-22.1zM387.3 -98.6h22.1v98.9h-22.1zM365.7 -0.3h22.1v33.4h-22.1zM387.3 -0.3h22.1v33.4h-22.1zM344.2 32.5h22.1v33.4h-22.1zM408.8 32.5h22.1v33.4h-22.1zM279.6 98.0h22.1v33.4h-22.1zM538.0 98.0h22.1v33.4h-22.1zM301.1 130.7h22.1v33.4h-22.1zM602.6 163.5h22.1v33.4h-22.1zM322.7 196.3h22.1v33.4h-22.1zM494.9 196.3h22.1v33.4h-22.1zM624.1 196.3h22.1v33.4h-22.1zM667.2 229.0h22.1v33.4h-22.1zM688.7 229.0h65.2v33.4h-65.2zM322.7 294.5h22.1v33.4h-22.1zM494.9 294.5h22.1v33.4h-22.1zM-64.9 360.1h65.2v33.4h-65.2zM-0.3 360.1h22.1v33.4h-22.1zM21.2 392.8h22.1v33.4h-22.1zM64.3 425.6h22.1v33.4h-22.1zM171.9 458.3h22.1v33.4h-22.1zM42.8 523.9h22.1v33.4h-22.1zM21.2 589.4h22.1v33.4h-22.1zM150.4 687.6h22.1v33.4h-22.1zM107.4 720.4h22.1v33.4h-22.1zM193.5 753.2h22.1v33.4h-22.1zM85.8 785.9h22.1v33.4h-22.1zM344.2 785.9h22.1v33.4h-22.1zM645.6 785.9h22.1v33.4h-22.1zM85.8 818.7h22.1v33.4h-22.1zM107.4 884.2h22.1v33.4h-22.1z"/><path fill="#202020" d="M430.3 -98.6h22.1v98.9h-22.1zM430.3 -0.3h22.1v33.4h-22.1zM279.6 32.5h22.1v33.4h-22.1zM451.9 32.5h22.1v33.4h-22.1zM516.5 32.5h22.1v33.4h-22.1zM538.0 32.5h22.1v33.4h-22.1zM559.5 32.5h22.1v33.4h-22.1zM581.0 32.5h22.1v33.4h-22.1zM602.6 32.5h22.1v33.4h-22.1zM301.1 65.2h22.1v33.4h-22.1zM451.9 65.2h22.1v33.4h-22.1zM516.5 65.2h22.1v33.4h-22.1zM559.5 65.2h22.1v33.4h-22.1zM581.0 65.2h22.1v33.4h-22.1zM602.6 65.2h22.1v33.4h-22.1zM494.9 130.7h22.1v33.4h-22.1zM42.8 458.3h22.1v33.4h-22.1zM-64.9 523.9h65.2v33.4h-65.2zM-0.3 523.9h22.1v33.4h-22.1zM473.4 523.9h22.1v33.4h-22.1zM344.2 654.9h22.1v33.4h-22.1zM42.8 687.6h22.1v33.4h-22.1zM85.8 753.2h22.1v33.4h-22.1zM150.4 753.2h22.1v33.4h-22.1zM64.3 851.4h22.1v33.4h-22.1zM21.2 884.2h22.1v33.4h-22.1z"/><path fill="#101010" d="M451.9 -98.6h22.1v98.9h-22.1zM516.5 -98.6h22.1v98.9h-22.1zM538.0 -98.6h22.1v98.9h-22.1zM559.5 -98.6h22.1v98.9h-22.1zM581.0 -98.6h22.1v98.9h-22.1zM602.6 -98.6h22.1v98.9h-22.1zM624.1 -98.6h22.1v98.9h-22.1zM645.6 -98.6h22.1v98.9h-22.1zM451.9 -0.3h22.1v33.4h-22.1zM516.5 -0.3h22.1v33.4h-22.1zM538.0 -0.3h22.1v33.4h-22.1zM559.5 -0.3h22.1v33.4h-22.1zM581.0 -0.3h22.1v33.4h-22.1zM602.6 -0.3h22.1v33.4h-22.1zM624.1 -0.3h22.1v33.4h-22.1zM645.6 -0.3h22.1v33.4h-22.1zM301.1 32.5h22.1v33.4h-22.1zM473.4 32.5h22.1v33.4h-22.1zM667.2 32.5h22.1v33.4h-22.1zM688.7 32.5h65.2v33.4h-65.2zM473.4 65.2h22.1v33.4h-22.1zM322.7 98.0h22.1v33.4h-22.1zM494.9 98.0h22.1v33.4h-22.1zM322.7 229.0h22.1v33.4h-22.1zM322.7 261.8h22.1v33.4h-22.1zM-64.9 425.6h65.2v33.4h-65.2zM-0.3 425.6h22.1v33.4h-22.1zM64.3 491.1h22.1v33.4h-22.1zM451.9 523.9h22.1v33.4h-22.1zM-64.9 654.9h65.2v33.4h-65.2zM-0.3 654.9h22.1v33.4h-22.1zM344.2 687.6h22.1v33.4h-22.1zM21.2 720.4h22.1v33.4h-22.1zM64.3 753.2h22.1v33.4h-22.1zM344.2 753.2h22.1v33.4h-22.1zM-64.9 785.9h65.2v33.4h-65.2zM-0.3 785.9h22.1v33.4h-22.1zM21.2 785.9h22.1v33.4h-22.1zM21.2 818.7h22.1v33.4h-22.1zM42.8 818.7h22.1v33.4h-22.1zM21.2 851.4h22.1v33.4h-22.1zM42.8 851.4h22.1v33.4h-22.1zM21.2 917.0h22.1v33.4h-22.1zM42.8 949.7h22.1v33.4h-22.1zM64.3 982.5h22.1v33.4h-22.1zM344.2 1015.2h22.1v33.4h-22.1zM344.2 1048.0h22.1v98.9h-22.1z"/><path fill="#dfdfdf" d="M107.4 32.5h22.1v33.4h-22.1zM128.9 65.2h22.1v33.4h-22.1zM193.5 65.2h22.1v33.4h-22.1zM-64.9 130.7h65.2v33.4h-65.2zM-0.3 130.7h22.1v33.4h-22.1zM387.3 163.5h22.1v33.4h-22.1zM344.2 196.3h22.1v33.4h-22.1zM279.6 294.5h22.1v33.4h-22.1zM430.3 294.5h22.1v33.4h-22.1zM171.9 392.8h22.1v33.4h-22.1zM559.5 392.8h22.1v33.4h-22.1zM236.5 491.1h22.1v33.4h-22.1zM494.9 491.1h22.1v33.4h-22.1zM128.9 523.9h22.1v33.4h-22.1zM645.6 556.6h22.1v33.4h-22.1zM171.9 622.1h22.1v33.4h-22.1zM667.2 720.4h22.1v33.4h-22.1zM688.7 720.4h65.2v33.4h-65.2zM279.6 753.2h22.1v33.4h-22.1zM667.2 851.4h22.1v33.4h-22.1zM688.7 851.4h65.2v33.4h-65.2zM258.1 884.2h22.1v33.4h-22.1zM365.7 949.7h22.1v33.4h-22.1zM387.3 1015.2h22.1v33.4h-22.1zM559.5 1015.2h22.1v33.4h-22.1zM387.3 1048.0h22.1v98.9h-22.1zM559.5 1048.0h22.1v98.9h-22.1z"/><path fill="#afafaf" d="M128.9 32.5h22.1v33.4h-22.1zM193.5 32.5h22.1v33.4h-22.1zM258.1 130.7h22.1v33.4h-22.1zM344.2 130.7h22.1v33.4h-22.1zM387.3 130.7h22.1v33.4h-22.1zM279.6 196.3h22.1v33.4h-22.1zM21.2 294.5h22.1v33.4h-22.1zM516.5 294.5h22.1v33.4h-22.1zM559.5 294.5h22.1v33.4h-22.1zM581.0 294.5h22.1v33.4h-22.1zM473.4 327.3h22.1v33.4h-22.1zM602.6 327.3h22.1v33.4h-22.1zM624.1 360.1h22.1v33.4h-22.1zM171.9 523.9h22.1v33.4h-22.1zM408.8 523.9h22.1v33.4h-22.1zM538.0 523.9h22.1v33.4h-22.1zM559.5 523.9h22.1v33.4h-22.1zM602.6 523.9h22.1v33.4h-22.1zM128.9 622.1h22.1v33.4h-22.1zM344.2 622.1h22.1v33.4h-22.1zM193.5 654.9h22.1v33.4h-22.1zM236.5 720.4h22.1v33.4h-22.1zM236.5 884.2h22.1v33.4h-22.1z"/><path fill="#d7d7d7" d="M171.9 32.5h22.1v33.4h-22.1zM365.7 130.7h22.1v33.4h-22.1zM21.2 163.5h22.1v33.4h-22.1zM258.1 163.5h22.1v33.4h-22.1zM344.2 163.5h22.1v33.4h-22.1zM408.8 196.3h22.1v33.4h-22.1zM64.3 229.0h22.1v33.4h-22.1zM42.8 294.5h22.1v33.4h-22.1zM344.2 327.3h22.1v33.4h-22.1zM322.7 360.1h22.1v33.4h-22.1zM538.0 360.1h22.1v33.4h-22.1zM559.5 360.1h22.1v33.4h-22.1zM128.9 392.8h22.1v33.4h-22.1zM150.4 392.8h22.1v33.4h-22.1zM581.0 392.8h22.1v33.4h-22.1zM645.6 458.3h22.1v33.4h-22.1zM667.2 491.1h22.1v33.4h-22.1zM688.7 491.1h65.2v33.4h-65.2zM236.5 687.6h22.1v33.4h-22.1zM602.6 785.9h22.1v33.4h-22.1zM258.1 851.4h22.1v33.4h-22.1zM494.9 982.5h22.1v33.4h-22.1zM473.4 1015.2h22.1v33.4h-22.1zM473.4 1048.0h22.1v98.9h-22.1z"/><path fill="#8f8f8f" d="M215.0 32.5h22.1v33.4h-22.1zM365.7 32.5h22.1v33.4h-22.1zM150.4 65.2h22.1v33.4h-22.1zM258.1 98.0h22.1v33.4h-22.1zM344.2 98.0h22.1v33.4h-22.1zM408.8 130.7h22.1v33.4h-22.1zM279.6 163.5h22.1v33.4h-22.1zM516.5 196.3h22.1v33.4h-22.1zM538.0 196.3h22.1v33.4h-22.1zM301.1 229.0h22.1v33.4h-22.1zM559.5 229.0h22.1v33.4h-22.1zM624.1 294.5h22.1v33.4h-22.1zM645.6 294.5h22.1v33.4h-22.1zM21.2 327.3h22.1v33.4h-22.1zM624.1 327.3h22.1v33.4h-22.1zM645.6 327.3h22.1v33.4h-22.1zM667.2 360.1h22.1v33.4h-22.1zM688.7 360.1h65.2v33.4h-65.2zM64.3 392.8h22.1v33.4h-22.1zM128.9 425.6h22.1v33.4h-22.1zM150.4 425.6h22.1v33.4h-22.1zM516.5 523.9h22.1v33.4h-22.1zM645.6 523.9h22.1v33.4h-22.1zM85.8 622.1h22.1v33.4h-22.1zM107.4 622.1h22.1v33.4h-22.1zM193.5 687.6h22.1v33.4h-22.1zM215.0 720.4h22.1v33.4h-22.1zM236.5 753.2h22.1v33.4h-22.1zM171.9 785.9h22.1v33.4h-22.1zM171.9 818.7h22.1v33.4h-22.1zM344.2 851.4h22.1v33.4h-22.1zM344.2 917.0h22.1v33.4h-22.1zM215.0 1015.2h22.1v33.4h-22.1zM236.5 1015.2h22.1v33.4h-22.1zM258.1 1015.2h22.1v33.4h-22.1zM494.9 1015.2h22.1v33.4h-22.1zM538.0 1015.2h22.1v33.4h-22.1zM215.0 1048.0h22.1v98.9h-22.1zM236.5 1048.0h22.1v98.9h-22.1zM258.1 1048.0h22.1v98.9h-22.1zM494.9 1048.0h22.1v98.9h-22.1zM538.0 1048.0h22.1v98.9h-22.1z"/><path fill="#282828" d="M430.3 32.5h22.1v33.4h-22.1zM538.0 65.2h22.1v33.4h-22.1zM645.6 98.0h22.1v33.4h-22.1zM667.2 98.0h22.1v33.4h-22.1zM688.7 98.0h65.2v33.4h-65.2zM667.2 130.7h22.1v33.4h-22.1zM688.7 130.7h65.2v33.4h-65.2zM-64.9 622.1h65.2v33.4h-65.2zM-0.3 622.1h22.1v33.4h-22.1zM21.2 654.9h22.1v33.4h-22.1zM42.8 884.2h22.1v33.4h-22.1zM64.3 884.2h22.1v33.4h-22.1z"/><path fill="#181818" d="M624.1 32.5h22.1v33.4h-22.1zM645.6 32.5h22.1v33.4h-22.1zM624.1 65.2h22.1v33.4h-22.1zM645.6 65.2h22.1v33.4h-22.1zM667.2 65.2h22.1v33.4h-22.1zM688.7 65.2h65.2v33.4h-65.2zM21.2 458.3h22.1v33.4h-22.1zM85.8 491.1h22.1v33.4h-22.1zM21.2 687.6h22.1v33.4h-22.1zM42.8 720.4h22.1v33.4h-22.1z"/><path fill="#c7c7c7" d="M215.0 65.2h22.1v33.4h-22.1zM236.5 98.0h22.1v33.4h-22.1zM279.6 229.0h22.1v33.4h-22.1zM279.6 261.8h22.1v33.4h-22.1zM344.2 261.8h22.1v33.4h-22.1zM538.0 294.5h22.1v33.4h-22.1zM301.1 327.3h22.1v33.4h-22.1zM516.5 327.3h22.1v33.4h-22.1zM559.5 327.3h22.1v33.4h-22.1zM581.0 327.3h22.1v33.4h-22.1zM602.6 360.1h22.1v33.4h-22.1zM645.6 425.6h22.1v33.4h-22.1zM215.0 458.3h22.1v33.4h-22.1zM667.2 458.3h22.1v33.4h-22.1zM688.7 458.3h65.2v33.4h-65.2zM107.4 523.9h22.1v33.4h-22.1zM85.8 556.6h22.1v33.4h-22.1zM451.9 556.6h22.1v33.4h-22.1zM667.2 556.6h22.1v33.4h-22.1zM688.7 556.6h65.2v33.4h-65.2zM215.0 654.9h22.1v33.4h-22.1zM365.7 654.9h22.1v33.4h-22.1zM365.7 720.4h22.1v33.4h-22.1zM258.1 753.2h22.1v33.4h-22.1zM193.5 785.9h22.1v33.4h-22.1zM215.0 818.7h22.1v33.4h-22.1zM645.6 818.7h22.1v33.4h-22.1zM258.1 917.0h22.1v33.4h-22.1zM279.6 949.7h22.1v33.4h-22.1zM301.1 982.5h22.1v33.4h-22.1z"/><path fill="#efefef" d="M150.4 98.0h22.1v33.4h-22.1zM236.5 130.7h22.1v33.4h-22.1zM258.1 196.3h22.1v33.4h-22.1zM42.8 261.8h22.1v33.4h-22.1zM344.2 294.5h22.1v33.4h-22.1zM64.3 327.3h22.1v33.4h-22.1zM279.6 327.3h22.1v33.4h-22.1zM85.8 360.1h22.1v33.4h-22.1zM516.5 360.1h22.1v33.4h-22.1zM494.9 392.8h22.1v33.4h-22.1zM538.0 392.8h22.1v33.4h-22.1zM215.0 425.6h22.1v33.4h-22.1zM494.9 425.6h22.1v33.4h-22.1zM581.0 425.6h22.1v33.4h-22.1zM624.1 458.3h22.1v33.4h-22.1zM387.3 523.9h22.1v33.4h-22.1zM107.4 556.6h22.1v33.4h-22.1zM107.4 589.4h22.1v33.4h-22.1zM344.2 589.4h22.1v33.4h-22.1zM667.2 589.4h22.1v33.4h-22.1zM688.7 589.4h65.2v33.4h-65.2zM258.1 720.4h22.1v33.4h-22.1zM301.1 753.2h22.1v33.4h-22.1zM322.7 753.2h22.1v33.4h-22.1zM236.5 785.9h22.1v33.4h-22.1zM258.1 818.7h22.1v33.4h-22.1zM624.1 818.7h22.1v33.4h-22.1zM279.6 851.4h22.1v33.4h-22.1zM301.1 917.0h22.1v33.4h-22.1zM365.7 917.0h22.1v33.4h-22.1zM301.1 949.7h22.1v33.4h-22.1zM494.9 949.7h22.1v33.4h-22.1zM451.9 1015.2h22.1v33.4h-22.1zM451.9 1048.0h22.1v98.9h-22.1z"/><path fill="#b7b7b7" d="M365.7 98.0h22.1v33.4h-22.1zM387.3 98.0h22.1v33.4h-22.1zM42.8 327.3h22.1v33.4h-22.1zM107.4 392.8h22.1v33.4h-22.1zM645.6 392.8h22.1v33.4h-22.1zM667.2 425.6h22.1v33.4h-22.1zM688.7 425.6h65.2v33.4h-65.2zM581.0 523.9h22.1v33.4h-22.1zM494.9 556.6h22.1v33.4h-22.1zM150.4 622.1h22.1v33.4h-22.1zM365.7 687.6h22.1v33.4h-22.1zM365.7 753.2h22.1v33.4h-22.1zM516.5 917.0h22.1v33.4h-22.1zM301.1 1015.2h22.1v33.4h-22.1zM322.7 1015.2h22.1v33.4h-22.1zM301.1 1048.0h22.1v98.9h-22.1zM322.7 1048.0h22.1v98.9h-22.1z"/><path fill="#606060" d="M451.9 98.0h22.1v33.4h-22.1zM516.5 98.0h22.1v33.4h-22.1zM451.9 130.7h22.1v33.4h-22.1zM516.5 130.7h22.1v33.4h-22.1zM538.0 130.7h22.1v33.4h-22.1zM473.4 163.5h22.1v33.4h-22.1zM581.0 163.5h22.1v33.4h-22.1zM602.6 196.3h22.1v33.4h-22.1zM645.6 229.0h22.1v33.4h-22.1zM667.2 261.8h22.1v33.4h-22.1zM688.7 261.8h65.2v33.4h-65.2zM21.2 556.6h22.1v33.4h-22.1zM85.8 654.9h22.1v33.4h-22.1zM128.9 720.4h22.1v33.4h-22.1zM171.9 720.4h22.1v33.4h-22.1zM215.0 753.2h22.1v33.4h-22.1zM64.3 785.9h22.1v33.4h-22.1zM128.9 818.7h22.1v33.4h-22.1zM150.4 851.4h22.1v33.4h-22.1zM128.9 917.0h22.1v33.4h-22.1z"/><path fill="#383838" d="M559.5 98.0h22.1v33.4h-22.1zM581.0 98.0h22.1v33.4h-22.1zM602.6 98.0h22.1v33.4h-22.1zM624.1 130.7h22.1v33.4h-22.1zM667.2 163.5h22.1v33.4h-22.1zM688.7 163.5h65.2v33.4h-65.2zM64.3 458.3h22.1v33.4h-22.1zM64.3 720.4h22.1v33.4h-22.1zM128.9 753.2h22.1v33.4h-22.1zM171.9 753.2h22.1v33.4h-22.1zM85.8 917.0h22.1v33.4h-22.1zM107.4 949.7h22.1v33.4h-22.1zM128.9 949.7h22.1v33.4h-22.1zM85.8 982.5h22.1v33.4h-22.1zM107.4 1015.2h22.1v33.4h-22.1zM107.4 1048.0h22.1v98.9h-22.1z"/><path fill="#a7a7a7" d="M-64.9 163.5h65.2v33.4h-65.2zM-0.3 163.5h22.1v33.4h-22.1zM408.8 163.5h22.1v33.4h-22.1zM21.2 196.3h22.1v33.4h-22.1zM-64.9 261.8h65.2v33.4h-65.2zM-0.3 261.8h22.1v33.4h-22.1zM538.0 261.8h22.1v33.4h-22.1zM559.5 261.8h22.1v33.4h-22.1zM301.1 294.5h22.1v33.4h-22.1zM451.9 294.5h22.1v33.4h-22.1zM602.6 294.5h22.1v33.4h-22.1zM451.9 327.3h22.1v33.4h-22.1zM494.9 360.1h22.1v33.4h-22.1zM624.1 523.9h22.1v33.4h-22.1zM64.3 556.6h22.1v33.4h-22.1zM64.3 589.4h22.1v33.4h-22.1zM215.0 687.6h22.1v33.4h-22.1zM193.5 818.7h22.1v33.4h-22.1zM215.0 851.4h22.1v33.4h-22.1zM193.5 884.2h22.1v33.4h-22.1zM215.0 884.2h22.1v33.4h-22.1zM344.2 884.2h22.1v33.4h-22.1zM215.0 917.0h22.1v33.4h-22.1zM236.5 917.0h22.1v33.4h-22.1zM236.5 949.7h22.1v33.4h-22.1zM258.1 949.7h22.1v33.4h-22.1zM258.1 982.5h22.1v33.4h-22.1zM279.6 982.5h22.1v33.4h-22.1zM279.6 1015.2h22.1v33.4h-22.1zM279.6 1048.0h22.1v98.9h-22.1z"/><path fill="#808080" d="M430.3 163.5h22.1v33.4h-22.1zM602.6 229.0h22.1v33.4h-22.1zM473.4 261.8h22.1v33.4h-22.1zM667.2 327.3h22.1v33.4h-22.1zM688.7 327.3h65.2v33.4h-65.2zM150.4 818.7h22.1v33.4h-22.1z"/><path fill="#707070" d="M451.9 163.5h22.1v33.4h-22.1zM538.0 163.5h22.1v33.4h-22.1zM473.4 196.3h22.1v33.4h-22.1zM581.0 196.3h22.1v33.4h-22.1zM21.2 229.0h22.1v33.4h-22.1zM451.9 229.0h22.1v33.4h-22.1zM624.1 229.0h22.1v33.4h-22.1zM667.2 294.5h22.1v33.4h-22.1zM688.7 294.5h65.2v33.4h-65.2zM42.8 392.8h22.1v33.4h-22.1zM128.9 458.3h22.1v33.4h-22.1zM42.8 589.4h22.1v33.4h-22.1zM107.4 654.9h22.1v33.4h-22.1zM128.9 687.6h22.1v33.4h-22.1zM171.9 687.6h22.1v33.4h-22.1zM193.5 720.4h22.1v33.4h-22.1zM150.4 917.0h22.1v33.4h-22.1zM171.9 917.0h22.1v33.4h-22.1zM150.4 949.7h22.1v33.4h-22.1z"/><path fill="#505050" d="M624.1 163.5h22.1v33.4h-22.1zM645.6 196.3h22.1v33.4h-22.1zM85.8 687.6h22.1v33.4h-22.1z"/><path fill="#e7e7e7" d="M408.8 229.0h22.1v33.4h-22.1zM408.8 261.8h22.1v33.4h-22.1zM430.3 327.3h22.1v33.4h-22.1zM451.9 360.1h22.1v33.4h-22.1zM602.6 425.6h22.1v33.4h-22.1zM215.0 523.9h22.1v33.4h-22.1zM667.2 687.6h22.1v33.4h-22.1zM688.7 687.6h65.2v33.4h-65.2zM279.6 884.2h22.1v33.4h-22.1zM279.6 917.0h22.1v33.4h-22.1z"/><path fill="#484848" d="M494.9 261.8h22.1v33.4h-22.1zM85.8 458.3h22.1v33.4h-22.1zM150.4 458.3h22.1v33.4h-22.1zM21.2 523.9h22.1v33.4h-22.1zM42.8 622.1h22.1v33.4h-22.1zM64.3 654.9h22.1v33.4h-22.1zM150.4 720.4h22.1v33.4h-22.1zM64.3 818.7h22.1v33.4h-22.1zM107.4 818.7h22.1v33.4h-22.1zM107.4 851.4h22.1v33.4h-22.1zM128.9 851.4h22.1v33.4h-22.1zM128.9 1015.2h22.1v33.4h-22.1zM150.4 1015.2h22.1v33.4h-22.1zM171.9 1015.2h22.1v33.4h-22.1zM128.9 1048.0h22.1v98.9h-22.1zM150.4 1048.0h22.1v98.9h-22.1zM171.9 1048.0h22.1v98.9h-22.1z"/><path fill="#bfbfbf" d="M624.1 392.8h22.1v33.4h-22.1zM85.8 589.4h22.1v33.4h-22.1z"/></g><g mask="url(#sawM)"><path d="M0 0H689.0V1048.3z" fill="url(#sawU)"/><path d="M0 0V1048.3H689.0z" fill="url(#sawL)"/></g><path d="M117.0 548.0L357.2 1062.0L412.2 1062.0L172.0 548.0z" fill="url(#weW)"/><path d="M109.4 531.7L357.2 1062.0L302.2 1062.0L54.4 531.7z" fill="url(#weK)"/><g filter="url(#b3)" fill="#000"><rect x="331.8" y="-5.4" width="21.0" height="95.0" opacity="0.60"/><rect x="336.8" y="89.6" width="15.0" height="32.0" opacity="0.45"/><path d="M285.8 -5.4L333.8 -5.4L333.8 89.6z" opacity="0.45"/><ellipse cx="340.8" cy="261.6" rx="13.0" ry="27.0" opacity="0.75"/><ellipse cx="343.8" cy="338.6" rx="8.0" ry="13.0" opacity="0.60"/><rect x="-4.2" y="503.6" width="76.0" height="21.0" opacity="0.70"/><rect x="71.8" y="512.6" width="166.0" height="12.0" opacity="0.40"/><ellipse cx="172.8" cy="515.6" rx="17.0" ry="19.0" opacity="0.80"/><ellipse cx="222.8" cy="518.6" rx="11.0" ry="9.0" opacity="0.60"/><ellipse cx="172.8" cy="533.6" rx="14.0" ry="11.0" opacity="0.75"/><ellipse cx="220.8" cy="531.6" rx="8.0" ry="5.0" opacity="0.40"/><ellipse cx="467.8" cy="540.6" rx="58.0" ry="15.0" opacity="0.50"/><ellipse cx="475.8" cy="557.6" rx="40.0" ry="12.0" opacity="0.25"/><ellipse cx="453.8" cy="538.6" rx="10.0" ry="14.0" opacity="0.70"/><ellipse cx="505.8" cy="537.6" rx="15.0" ry="13.0" opacity="0.75"/><ellipse cx="354.8" cy="687.6" rx="7.0" ry="22.0" opacity="0.80"/><ellipse cx="354.8" cy="765.6" rx="7.0" ry="25.0" opacity="0.75"/><rect x="347.8" y="654.6" width="15.0" height="395.0" opacity="0.18"/><ellipse cx="353.8" cy="1031.6" rx="9.0" ry="26.0" opacity="0.60"/><ellipse cx="351.8" cy="787.6" rx="8.0" ry="8.0" opacity="0.50"/><ellipse cx="521.8" cy="1031.6" rx="8.0" ry="30.0" opacity="0.80"/><ellipse cx="682.8" cy="790.6" rx="14.0" ry="11.0" opacity="0.70"/><rect x="-4.2" y="489.6" width="14.0" height="565.0" opacity="0.25"/><ellipse cx="17.8" cy="242.6" rx="42.0" ry="12.0" opacity="0.30"/><ellipse cx="499.8" cy="5.6" rx="13.0" ry="30.0" opacity="0.45"/></g><rect x="0" y="148.5" width="689.0" height="5" fill="#fff" opacity="0.3"/><rect x="0" y="1001" width="689.0" height="3" fill="#fff" opacity="0.25"/></g></g>
<linearGradient id="gReds" x1="0" y1="0" x2="0" y2="1"><stop offset="0.0000" stop-color="#67000d"/><stop offset="0.0312" stop-color="#75030f"/><stop offset="0.0625" stop-color="#840711"/><stop offset="0.0938" stop-color="#940b13"/><stop offset="0.1250" stop-color="#a30f15"/><stop offset="0.1562" stop-color="#ad1117"/><stop offset="0.1875" stop-color="#b71319"/><stop offset="0.2188" stop-color="#c1161b"/><stop offset="0.2500" stop-color="#ca181d"/><stop offset="0.2812" stop-color="#d32020"/><stop offset="0.3125" stop-color="#dc2924"/><stop offset="0.3438" stop-color="#e53228"/><stop offset="0.3750" stop-color="#ee3a2c"/><stop offset="0.4062" stop-color="#f24633"/><stop offset="0.4375" stop-color="#f5523a"/><stop offset="0.4688" stop-color="#f85d42"/><stop offset="0.5000" stop-color="#fb694a"/><stop offset="0.5312" stop-color="#fb7353"/><stop offset="0.5625" stop-color="#fb7d5d"/><stop offset="0.5938" stop-color="#fc8767"/><stop offset="0.6250" stop-color="#fc9272"/><stop offset="0.6562" stop-color="#fc9c7d"/><stop offset="0.6875" stop-color="#fca689"/><stop offset="0.7188" stop-color="#fcb095"/><stop offset="0.7500" stop-color="#fcbba1"/><stop offset="0.7812" stop-color="#fcc4ad"/><stop offset="0.8125" stop-color="#fdcdb9"/><stop offset="0.8438" stop-color="#fdd7c6"/><stop offset="0.8750" stop-color="#fee0d2"/><stop offset="0.9062" stop-color="#fee5d9"/><stop offset="0.9375" stop-color="#feeae1"/><stop offset="0.9688" stop-color="#fff0e8"/><stop offset="1.0000" stop-color="#fff5f0"/></linearGradient>
<linearGradient id="ulh" x1="0" y1="0" x2="1" y2="0"><stop offset="0" stop-color="#eaf1f5" stop-opacity="0"/><stop offset="1" stop-color="#eaf1f5" stop-opacity="0.9"/></linearGradient>
<linearGradient id="ulv" x1="0" y1="0" x2="0" y2="1"><stop offset="0" stop-color="#e7f0f4" stop-opacity="0"/><stop offset="0.6" stop-color="#e7f0f4" stop-opacity="0.3"/><stop offset="1" stop-color="#deebf2" stop-opacity="0.9"/></linearGradient>
<linearGradient id="urr" x1="0" y1="0" x2="0" y2="1"><stop offset="0" stop-color="#f6b394" stop-opacity="0"/><stop offset="0.5" stop-color="#f3a481" stop-opacity="0.25"/><stop offset="0.8" stop-color="#e48066" stop-opacity="0.5"/><stop offset="0.95" stop-color="#ba2832" stop-opacity="0.85"/><stop offset="1" stop-color="#790622" stop-opacity="0.95"/></linearGradient>
<linearGradient id="urb" x1="0" y1="0" x2="1" y2="0"><stop offset="0" stop-color="#0c3d73"/><stop offset="0.35" stop-color="#327cb7" stop-opacity="0.9"/><stop offset="1" stop-color="#90c4dd" stop-opacity="0"/></linearGradient>
<linearGradient id="ulb" x1="0" y1="0" x2="1" y2="0"><stop offset="0" stop-color="#b1d5e7" stop-opacity="0"/><stop offset="1" stop-color="#7eb8d7" stop-opacity="0.8"/></linearGradient>
<linearGradient id="llr" x1="0" y1="0" x2="1" y2="0"><stop offset="0" stop-color="#f3a481" stop-opacity="0"/><stop offset="1" stop-color="#e48066" stop-opacity="0.35"/></linearGradient>
<linearGradient id="llr2" x1="0" y1="0" x2="1" y2="0"><stop offset="0" stop-color="#d6604d" stop-opacity="0"/><stop offset="0.7" stop-color="#c43b3c" stop-opacity="0.35"/><stop offset="1" stop-color="#790622" stop-opacity="0.85"/></linearGradient>
<linearGradient id="lrv" x1="0" y1="0" x2="0" y2="1"><stop offset="0" stop-color="#f3a481" stop-opacity="0.35"/><stop offset="0.4" stop-color="#ec9374" stop-opacity="0.5"/><stop offset="0.6" stop-color="#ba2832" stop-opacity="0.9"/><stop offset="1" stop-color="#8a0b25" stop-opacity="0.95"/></linearGradient>
<linearGradient id="lrh" x1="0" y1="0" x2="0" y2="1"><stop offset="0" stop-color="#f6b394" stop-opacity="0.2"/><stop offset="1" stop-color="#d6604d" stop-opacity="0.9"/></linearGradient>
<linearGradient id="lrh2" x1="0" y1="0" x2="1" y2="0"><stop offset="0" stop-color="#f3a481" stop-opacity="0.5"/><stop offset="0.4" stop-color="#b1182b"/><stop offset="1" stop-color="#790622"/></linearGradient>
<linearGradient id="lrt" x1="0" y1="0" x2="1" y2="0"><stop offset="0" stop-color="#67001f"/><stop offset="0.3" stop-color="#67001f"/><stop offset="0.5" stop-color="#9f1228"/><stop offset="0.52" stop-color="#c43b3c" stop-opacity="0.5"/><stop offset="1" stop-color="#d6604d" stop-opacity="0.35"/></linearGradient>
<linearGradient id="gRdBu" x1="0" y1="0" x2="0" y2="1"><stop offset="0.0000" stop-color="#67001f"/><stop offset="0.0312" stop-color="#7c0722"/><stop offset="0.0625" stop-color="#930e26"/><stop offset="0.0938" stop-color="#ab162a"/><stop offset="0.1250" stop-color="#ba2832"/><stop offset="0.1562" stop-color="#c53e3d"/><stop offset="0.1875" stop-color="#d05548"/><stop offset="0.2188" stop-color="#db6b55"/><stop offset="0.2500" stop-color="#e48066"/><stop offset="0.2812" stop-color="#ee9677"/><stop offset="0.3125" stop-color="#f5aa89"/><stop offset="0.3438" stop-color="#f8bb9e"/><stop offset="0.3750" stop-color="#fbccb4"/><stop offset="0.4062" stop-color="#fddcc9"/><stop offset="0.4375" stop-color="#fbe5d8"/><stop offset="0.4688" stop-color="#f9eee7"/><stop offset="0.5000" stop-color="#f7f6f6"/><stop offset="0.5312" stop-color="#ecf2f5"/><stop offset="0.5625" stop-color="#e0ecf3"/><stop offset="0.5938" stop-color="#d4e6f1"/><stop offset="0.6250" stop-color="#c2ddec"/><stop offset="0.6562" stop-color="#aed3e6"/><stop offset="0.6875" stop-color="#9bc9e0"/><stop offset="0.7188" stop-color="#84bcd9"/><stop offset="0.7500" stop-color="#6bacd1"/><stop offset="0.7812" stop-color="#529dc8"/><stop offset="0.8125" stop-color="#3f8ec0"/><stop offset="0.8438" stop-color="#3480b9"/><stop offset="0.8750" stop-color="#2a71b2"/><stop offset="0.9062" stop-color="#1f63a8"/><stop offset="0.9375" stop-color="#175290"/><stop offset="0.9688" stop-color="#0e4179"/><stop offset="1.0000" stop-color="#053061"/></linearGradient>
</defs>
<rect width="3390" height="1701" fill="#fff"/>
<text x="1764.25" y="42.90" font-size="31.47" text-anchor="middle" font-weight="bold" textLength="1233.30" lengthAdjust="spacingAndGlyphs" xml:space="preserve">Edward — chr12 insulator  |  EFO:0004038 (Mouse embryonic stem cell)</text>
<rect x="1760.6" y="60.1" width="9.0" height="261.2" fill="#ff0000" fill-opacity="0.25" stroke="#ff0000" stroke-opacity="0.25" stroke-width="2.2"/>
<path d="M212.4 321.3H3315.0" stroke="#000" stroke-width="2.22"/>
<path d="M774.00 321.30v10.83" stroke="#000" stroke-width="2.22"/>
<text x="774.00" y="363.20" font-size="28.61" text-anchor="middle" textLength="141.39" lengthAdjust="spacingAndGlyphs" xml:space="preserve">27000000</text>
<path d="M1365.56 321.30v10.83" stroke="#000" stroke-width="2.22"/>
<text x="1365.56" y="363.20" font-size="28.61" text-anchor="middle" textLength="141.39" lengthAdjust="spacingAndGlyphs" xml:space="preserve">27200000</text>
<path d="M1957.13 321.30v10.83" stroke="#000" stroke-width="2.22"/>
<text x="1957.13" y="363.20" font-size="28.61" text-anchor="middle" textLength="141.39" lengthAdjust="spacingAndGlyphs" xml:space="preserve">27400000</text>
<path d="M2548.69 321.30v10.83" stroke="#000" stroke-width="2.22"/>
<text x="2548.69" y="363.20" font-size="28.61" text-anchor="middle" textLength="141.39" lengthAdjust="spacingAndGlyphs" xml:space="preserve">27600000</text>
<path d="M3140.26 321.30v10.83" stroke="#000" stroke-width="2.22"/>
<text x="3140.26" y="363.20" font-size="28.61" text-anchor="middle" textLength="141.39" lengthAdjust="spacingAndGlyphs" xml:space="preserve">27800000</text>
<rect x="3130.6" y="71.6" width="172.6" height="39.7" rx="5" ry="5" fill="#fff" fill-opacity="0.8" stroke="#ccc" stroke-opacity="0.8" stroke-width="2.8"/>
<rect x="3139.1" y="82.3" width="45.7" height="15.2" fill="#ff0000" fill-opacity="0.25" stroke="#ff0000" stroke-opacity="0.25" stroke-width="2.2"/>
<text x="3201.20" y="98.00" font-size="22.89" text-anchor="start" textLength="93.20" lengthAdjust="spacingAndGlyphs" xml:space="preserve">Deletion</text>
<use href="#hm1" x="214.20" y="550.40"/>
<path d="M558.45 1598.70V550.40" stroke="#00ffff" stroke-opacity="0.8" stroke-width="3.33" stroke-dasharray="12.33 5.33" fill="none"/>
<path d="M560.35 1598.70V550.40" stroke="#00ffff" stroke-opacity="0.8" stroke-width="3.33" stroke-dasharray="12.33 5.33" fill="none"/>
<path d="M214.20 1074.60H903.20" stroke="#00ffff" stroke-opacity="0.8" stroke-width="3.33" stroke-dasharray="12.33 5.33" fill="none"/>
<path d="M214.20 1077.50H903.20" stroke="#00ffff" stroke-opacity="0.8" stroke-width="3.33" stroke-dasharray="12.33 5.33" fill="none"/>
<rect x="214.20" y="550.40" width="689.00" height="1048.30" fill="none" stroke="#000" stroke-width="2.22"/>
<text x="558.70" y="534.00" font-size="25.75" text-anchor="middle" font-weight="bold" textLength="136.09" lengthAdjust="spacingAndGlyphs" xml:space="preserve">Wild-type</text>
<path d="M338.72 1598.70v10.83" stroke="#000" stroke-width="2.22"/>
<path d="M214.20 739.85h-10.83" stroke="#000" stroke-width="2.22"/>
<text x="338.72" y="1640.80" font-size="28.61" text-anchor="middle" textLength="141.39" lengthAdjust="spacingAndGlyphs" xml:space="preserve">27000000</text>
<text x="194.90" y="750.25" font-size="28.61" text-anchor="end" textLength="141.39" lengthAdjust="spacingAndGlyphs" xml:space="preserve">27000000</text>
<path d="M470.13 1598.70v10.83" stroke="#000" stroke-width="2.22"/>
<path d="M214.20 939.80h-10.83" stroke="#000" stroke-width="2.22"/>
<text x="470.13" y="1640.80" font-size="28.61" text-anchor="middle" textLength="141.39" lengthAdjust="spacingAndGlyphs" xml:space="preserve">27200000</text>
<text x="194.90" y="950.20" font-size="28.61" text-anchor="end" textLength="141.39" lengthAdjust="spacingAndGlyphs" xml:space="preserve">27200000</text>
<path d="M601.55 1598.70v10.83" stroke="#000" stroke-width="2.22"/>
<path d="M214.20 1139.74h-10.83" stroke="#000" stroke-width="2.22"/>
<text x="601.55" y="1640.80" font-size="28.61" text-anchor="middle" textLength="141.39" lengthAdjust="spacingAndGlyphs" xml:space="preserve">27400000</text>
<text x="194.90" y="1150.14" font-size="28.61" text-anchor="end" textLength="141.39" lengthAdjust="spacingAndGlyphs" xml:space="preserve">27400000</text>
<path d="M732.96 1598.70v10.83" stroke="#000" stroke-width="2.22"/>
<path d="M214.20 1339.69h-10.83" stroke="#000" stroke-width="2.22"/>
<text x="732.96" y="1640.80" font-size="28.61" text-anchor="middle" textLength="141.39" lengthAdjust="spacingAndGlyphs" xml:space="preserve">27600000</text>
<text x="194.90" y="1350.09" font-size="28.61" text-anchor="end" textLength="141.39" lengthAdjust="spacingAndGlyphs" xml:space="preserve">27600000</text>
<path d="M864.38 1598.70v10.83" stroke="#000" stroke-width="2.22"/>
<path d="M214.20 1539.64h-10.83" stroke="#000" stroke-width="2.22"/>
<text x="864.38" y="1640.80" font-size="28.61" text-anchor="middle" textLength="141.39" lengthAdjust="spacingAndGlyphs" xml:space="preserve">27800000</text>
<text x="194.90" y="1550.04" font-size="28.61" text-anchor="end" textLength="141.39" lengthAdjust="spacingAndGlyphs" xml:space="preserve">27800000</text>
<text x="558.70" y="1675.70" font-size="22.89" text-anchor="middle" textLength="139.14" lengthAdjust="spacingAndGlyphs" xml:space="preserve">Position (bp)</text>
<text x="36.20" y="1076.05" font-size="22.89" text-anchor="middle" textLength="139.14" lengthAdjust="spacingAndGlyphs" transform="rotate(-90 36.20 1076.05)" xml:space="preserve">Position (bp)</text>
<rect x="946.80" y="655.80" width="41.50" height="838.80" fill="url(#gReds)" stroke="#000" stroke-width="2.22"/>
<path d="M988.30 1494.60h10.83" stroke="#000" stroke-width="2.22"/>
<text x="1008.60" y="1505.00" font-size="28.61" text-anchor="start" textLength="61.85" lengthAdjust="spacingAndGlyphs" xml:space="preserve">0.00</text>
<path d="M988.30 1372.60h10.83" stroke="#000" stroke-width="2.22"/>
<text x="1008.60" y="1383.00" font-size="28.61" text-anchor="start" textLength="61.85" lengthAdjust="spacingAndGlyphs" xml:space="preserve">0.05</text>
<path d="M988.30 1250.60h10.83" stroke="#000" stroke-width="2.22"/>
<text x="1008.60" y="1261.00" font-size="28.61" text-anchor="start" textLength="61.85" lengthAdjust="spacingAndGlyphs" xml:space="preserve">0.10</text>
<path d="M988.30 1128.60h10.83" stroke="#000" stroke-width="2.22"/>
<text x="1008.60" y="1139.00" font-size="28.61" text-anchor="start" textLength="61.85" lengthAdjust="spacingAndGlyphs" xml:space="preserve">0.15</text>
<path d="M988.30 1006.60h10.83" stroke="#000" stroke-width="2.22"/>
<text x="1008.60" y="1017.00" font-size="28.61" text-anchor="start" textLength="61.85" lengthAdjust="spacingAndGlyphs" xml:space="preserve">0.20</text>
<path d="M988.30 884.60h10.83" stroke="#000" stroke-width="2.22"/>
<text x="1008.60" y="895.00" font-size="28.61" text-anchor="start" textLength="61.85" lengthAdjust="spacingAndGlyphs" xml:space="preserve">0.25</text>
<path d="M988.30 762.60h10.83" stroke="#000" stroke-width="2.22"/>
<text x="1008.60" y="773.00" font-size="28.61" text-anchor="start" textLength="61.85" lengthAdjust="spacingAndGlyphs" xml:space="preserve">0.30</text>
<text x="1102.90" y="1076.50" font-size="28.61" text-anchor="middle" textLength="181.05" lengthAdjust="spacingAndGlyphs" transform="rotate(-90 1102.90 1076.50)" xml:space="preserve">Contact freq.</text>
<use href="#hm1" x="1334.20" y="550.40"/>
<path d="M1678.45 1598.70V550.40" stroke="#00ffff" stroke-opacity="0.8" stroke-width="3.33" stroke-dasharray="12.33 5.33" fill="none"/>
<path d="M1680.35 1598.70V550.40" stroke="#00ffff" stroke-opacity="0.8" stroke-width="3.33" stroke-dasharray="12.33 5.33" fill="none"/>
<path d="M1334.20 1074.60H2023.20" stroke="#00ffff" stroke-opacity="0.8" stroke-width="3.33" stroke-dasharray="12.33 5.33" fill="none"/>
<path d="M1334.20 1077.50H2023.20" stroke="#00ffff" stroke-opacity="0.8" stroke-width="3.33" stroke-dasharray="12.33 5.33" fill="none"/>
<rect x="1334.20" y="550.40" width="689.00" height="1048.30" fill="none" stroke="#000" stroke-width="2.22"/>
<text x="1678.70" y="534.00" font-size="25.75" text-anchor="middle" font-weight="bold" textLength="351.16" lengthAdjust="spacingAndGlyphs" xml:space="preserve">After deletion (2,924 bp)</text>
<path d="M1458.72 1598.70v10.83" stroke="#000" stroke-width="2.22"/>
<path d="M1334.20 739.85h-10.83" stroke="#000" stroke-width="2.22"/>
<text x="1458.72" y="1640.80" font-size="28.61" text-anchor="middle" textLength="141.39" lengthAdjust="spacingAndGlyphs" xml:space="preserve">27000000</text>
<text x="1314.90" y="750.25" font-size="28.61" text-anchor="end" textLength="141.39" lengthAdjust="spacingAndGlyphs" xml:space="preserve">27000000</text>
<path d="M1590.13 1598.70v10.83" stroke="#000" stroke-width="2.22"/>
<path d="M1334.20 939.80h-10.83" stroke="#000" stroke-width="2.22"/>
<text x="1590.13" y="1640.80" font-size="28.61" text-anchor="middle" textLength="141.39" lengthAdjust="spacingAndGlyphs" xml:space="preserve">27200000</text>
<text x="1314.90" y="950.20" font-size="28.61" text-anchor="end" textLength="141.39" lengthAdjust="spacingAndGlyphs" xml:space="preserve">27200000</text>
<path d="M1721.55 1598.70v10.83" stroke="#000" stroke-width="2.22"/>
<path d="M1334.20 1139.74h-10.83" stroke="#000" stroke-width="2.22"/>
<text x="1721.55" y="1640.80" font-size="28.61" text-anchor="middle" textLength="141.39" lengthAdjust="spacingAndGlyphs" xml:space="preserve">27400000</text>
<text x="1314.90" y="1150.14" font-size="28.61" text-anchor="end" textLength="141.39" lengthAdjust="spacingAndGlyphs" xml:space="preserve">27400000</text>
<path d="M1852.96 1598.70v10.83" stroke="#000" stroke-width="2.22"/>
<path d="M1334.20 1339.69h-10.83" stroke="#000" stroke-width="2.22"/>
<text x="1852.96" y="1640.80" font-size="28.61" text-anchor="middle" textLength="141.39" lengthAdjust="spacingAndGlyphs" xml:space="preserve">27600000</text>
<text x="1314.90" y="1350.09" font-size="28.61" text-anchor="end" textLength="141.39" lengthAdjust="spacingAndGlyphs" xml:space="preserve">27600000</text>
<path d="M1984.38 1598.70v10.83" stroke="#000" stroke-width="2.22"/>
<path d="M1334.20 1539.64h-10.83" stroke="#000" stroke-width="2.22"/>
<text x="1984.38" y="1640.80" font-size="28.61" text-anchor="middle" textLength="141.39" lengthAdjust="spacingAndGlyphs" xml:space="preserve">27800000</text>
<text x="1314.90" y="1550.04" font-size="28.61" text-anchor="end" textLength="141.39" lengthAdjust="spacingAndGlyphs" xml:space="preserve">27800000</text>
<text x="1678.70" y="1675.70" font-size="22.89" text-anchor="middle" textLength="139.14" lengthAdjust="spacingAndGlyphs" xml:space="preserve">Position (bp)</text>
<text x="1156.20" y="1076.05" font-size="22.89" text-anchor="middle" textLength="139.14" lengthAdjust="spacingAndGlyphs" transform="rotate(-90 1156.20 1076.05)" xml:space="preserve">Position (bp)</text>
<rect x="2066.80" y="655.80" width="41.50" height="838.80" fill="url(#gReds)" stroke="#000" stroke-width="2.22"/>
<path d="M2108.30 1494.60h10.83" stroke="#000" stroke-width="2.22"/>
<text x="2128.60" y="1505.00" font-size="28.61" text-anchor="start" textLength="61.85" lengthAdjust="spacingAndGlyphs" xml:space="preserve">0.00</text>
<path d="M2108.30 1372.60h10.83" stroke="#000" stroke-width="2.22"/>
<text x="2128.60" y="1383.00" font-size="28.61" text-anchor="start" textLength="61.85" lengthAdjust="spacingAndGlyphs" xml:space="preserve">0.05</text>
<path d="M2108.30 1250.60h10.83" stroke="#000" stroke-width="2.22"/>
<text x="2128.60" y="1261.00" font-size="28.61" text-anchor="start" textLength="61.85" lengthAdjust="spacingAndGlyphs" xml:space="preserve">0.10</text>
<path d="M2108.30 1128.60h10.83" stroke="#000" stroke-width="2.22"/>
<text x="2128.60" y="1139.00" font-size="28.61" text-anchor="start" textLength="61.85" lengthAdjust="spacingAndGlyphs" xml:space="preserve">0.15</text>
<path d="M2108.30 1006.60h10.83" stroke="#000" stroke-width="2.22"/>
<text x="2128.60" y="1017.00" font-size="28.61" text-anchor="start" textLength="61.85" lengthAdjust="spacingAndGlyphs" xml:space="preserve">0.20</text>
<path d="M2108.30 884.60h10.83" stroke="#000" stroke-width="2.22"/>
<text x="2128.60" y="895.00" font-size="28.61" text-anchor="start" textLength="61.85" lengthAdjust="spacingAndGlyphs" xml:space="preserve">0.25</text>
<path d="M2108.30 762.60h10.83" stroke="#000" stroke-width="2.22"/>
<text x="2128.60" y="773.00" font-size="28.61" text-anchor="start" textLength="61.85" lengthAdjust="spacingAndGlyphs" xml:space="preserve">0.30</text>
<text x="2222.90" y="1076.50" font-size="28.61" text-anchor="middle" textLength="181.05" lengthAdjust="spacingAndGlyphs" transform="rotate(-90 2222.90 1076.50)" xml:space="preserve">Contact freq.</text>
<g transform="translate(2453.00 550.40)" clip-path="url(#cp)"><rect x="0" y="0" width="345.3" height="528.6" fill="#f7f6f6"/><rect x="0" y="0" width="345.3" height="525.6" fill="url(#ulh)"/><rect x="0" y="0" width="345.3" height="525.6" fill="url(#ulv)"/><g id="vs"><path fill="#f7f6f6" d="M345.3 0h1.6v527.6h-1.6zM381.6 0h1.6v527.6h-1.6zM384.3 0h1.6v527.6h-1.6zM397.8 0h1.6v527.6h-1.6zM400.5 0h3.0v527.6h-3.0zM404.5 0h1.6v527.6h-1.6zM409.9 0h3.0v527.6h-3.0zM466.4 0h1.6v527.6h-1.6zM532.4 0h1.6v527.6h-1.6zM536.4 0h1.6v527.6h-1.6zM551.2 0h1.6v527.6h-1.6zM567.4 0h1.6v527.6h-1.6zM586.2 0h4.3v527.6h-4.3zM598.3 0h1.6v527.6h-1.6zM601.0 0h5.7v527.6h-5.7zM619.9 0h1.6v527.6h-1.6zM625.3 0h1.6v527.6h-1.6zM629.3 0h1.6v527.6h-1.6zM645.5 0h1.6v527.6h-1.6zM649.5 0h3.0v527.6h-3.0zM653.5 0h1.6v527.6h-1.6z"/><path fill="#f9f0eb" d="M346.6 0h1.6v527.6h-1.6zM405.9 0h1.6v527.6h-1.6zM412.6 0h3.0v527.6h-3.0zM416.6 0h3.0v527.6h-3.0zM422.0 0h1.6v527.6h-1.6zM424.7 0h1.6v527.6h-1.6zM430.1 0h3.0v527.6h-3.0zM461.1 0h1.6v527.6h-1.6zM470.5 0h1.6v527.6h-1.6zM474.5 0h1.6v527.6h-1.6zM525.7 0h1.6v527.6h-1.6zM615.8 0h1.6v527.6h-1.6zM622.6 0h1.6v527.6h-1.6zM628.0 0h1.6v527.6h-1.6zM638.7 0h1.6v527.6h-1.6zM641.4 0h4.3v527.6h-4.3zM648.2 0h1.6v527.6h-1.6zM652.2 0h1.6v527.6h-1.6zM656.2 0h1.6v527.6h-1.6zM661.6 0h3.0v527.6h-3.0zM665.6 0h1.6v527.6h-1.6zM668.3 0h1.6v527.6h-1.6z"/><path fill="#2a71b2" d="M348.0 0h3.0v527.6h-3.0zM352.0 0h1.6v527.6h-1.6z"/><path fill="#2065ab" d="M350.7 0h1.6v527.6h-1.6z"/><path fill="#c2ddec" d="M353.4 0h1.6v527.6h-1.6zM385.7 0h3.0v527.6h-3.0zM451.6 0h3.0v527.6h-3.0zM514.9 0h1.6v527.6h-1.6zM517.6 0h1.6v527.6h-1.6zM558.0 0h1.6v527.6h-1.6zM594.3 0h1.6v527.6h-1.6zM675.1 0h1.6v527.6h-1.6zM680.5 0h1.6v527.6h-1.6zM684.5 0h3.0v527.6h-3.0zM688.5 0h1.6v527.6h-1.6z"/><path fill="#b1d5e7" d="M354.7 0h7.0v527.6h-7.0zM362.8 0h4.3v527.6h-4.3zM552.6 0h4.3v527.6h-4.3zM687.2 0h1.6v527.6h-1.6z"/><path fill="#90c4dd" d="M361.5 0h1.6v527.6h-1.6zM366.8 0h1.6v527.6h-1.6zM374.9 0h1.6v527.6h-1.6zM392.4 0h1.6v527.6h-1.6zM489.3 0h1.6v527.6h-1.6zM576.8 0h1.6v527.6h-1.6zM579.5 0h1.6v527.6h-1.6zM679.1 0h1.6v527.6h-1.6z"/><path fill="#4393c3" d="M368.2 0h1.6v527.6h-1.6zM575.5 0h1.6v527.6h-1.6z"/><path fill="#fae9df" d="M369.5 0h1.6v527.6h-1.6zM419.3 0h3.0v527.6h-3.0zM427.4 0h3.0v527.6h-3.0zM435.5 0h1.6v527.6h-1.6zM467.8 0h1.6v527.6h-1.6zM471.8 0h1.6v527.6h-1.6zM512.2 0h3.0v527.6h-3.0zM548.5 0h1.6v527.6h-1.6zM595.7 0h1.6v527.6h-1.6zM614.5 0h1.6v527.6h-1.6zM617.2 0h1.6v527.6h-1.6zM623.9 0h1.6v527.6h-1.6zM626.6 0h1.6v527.6h-1.6zM658.9 0h3.0v527.6h-3.0zM664.3 0h1.6v527.6h-1.6zM669.7 0h1.6v527.6h-1.6z"/><path fill="#fce2d2" d="M370.9 0h4.3v527.6h-4.3zM423.4 0h1.6v527.6h-1.6zM426.1 0h1.6v527.6h-1.6zM432.8 0h1.6v527.6h-1.6zM436.8 0h1.6v527.6h-1.6zM459.7 0h1.6v527.6h-1.6zM463.7 0h3.0v527.6h-3.0zM469.1 0h1.6v527.6h-1.6zM473.2 0h1.6v527.6h-1.6zM477.2 0h1.6v527.6h-1.6zM510.9 0h1.6v527.6h-1.6zM667.0 0h1.6v527.6h-1.6zM671.0 0h1.6v527.6h-1.6z"/><path fill="#7eb8d7" d="M376.3 0h1.6v527.6h-1.6zM505.5 0h3.0v527.6h-3.0z"/><path fill="#edf2f5" d="M377.6 0h3.0v527.6h-3.0zM383.0 0h1.6v527.6h-1.6zM393.8 0h1.6v527.6h-1.6zM399.1 0h1.6v527.6h-1.6zM403.2 0h1.6v527.6h-1.6zM415.3 0h1.6v527.6h-1.6zM518.9 0h7.0v527.6h-7.0zM527.0 0h1.6v527.6h-1.6zM531.0 0h1.6v527.6h-1.6zM540.5 0h4.3v527.6h-4.3zM545.9 0h3.0v527.6h-3.0zM560.7 0h1.6v527.6h-1.6zM564.7 0h3.0v527.6h-3.0zM572.8 0h3.0v527.6h-3.0zM580.9 0h1.6v527.6h-1.6zM584.9 0h1.6v527.6h-1.6zM590.3 0h1.6v527.6h-1.6zM599.7 0h1.6v527.6h-1.6zM610.5 0h4.3v527.6h-4.3zM618.5 0h1.6v527.6h-1.6zM621.2 0h1.6v527.6h-1.6zM640.1 0h1.6v527.6h-1.6zM646.8 0h1.6v527.6h-1.6zM657.6 0h1.6v527.6h-1.6z"/><path fill="#e4eef4" d="M380.3 0h1.6v527.6h-1.6zM395.1 0h3.0v527.6h-3.0zM407.2 0h1.6v527.6h-1.6zM528.4 0h3.0v527.6h-3.0zM533.7 0h1.6v527.6h-1.6zM544.5 0h1.6v527.6h-1.6zM556.6 0h1.6v527.6h-1.6zM559.3 0h1.6v527.6h-1.6zM563.4 0h1.6v527.6h-1.6zM570.1 0h3.0v527.6h-3.0zM597.0 0h1.6v527.6h-1.6zM606.4 0h1.6v527.6h-1.6zM630.7 0h1.6v527.6h-1.6zM654.9 0h1.6v527.6h-1.6z"/><path fill="#ec9374" d="M388.4 0h3.0v527.6h-3.0zM494.7 0h1.6v527.6h-1.6z"/><path fill="#e48066" d="M391.1 0h1.6v527.6h-1.6zM492.0 0h3.0v527.6h-3.0z"/><path fill="#f6b394" d="M408.6 0h1.6v527.6h-1.6zM444.9 0h1.6v527.6h-1.6zM483.9 0h1.6v527.6h-1.6zM488.0 0h1.6v527.6h-1.6zM681.8 0h1.6v527.6h-1.6z"/><path fill="#fbccb4" d="M434.1 0h1.6v527.6h-1.6zM439.5 0h4.3v527.6h-4.3zM447.6 0h1.6v527.6h-1.6zM454.3 0h1.6v527.6h-1.6zM457.0 0h3.0v527.6h-3.0zM478.6 0h1.6v527.6h-1.6zM485.3 0h3.0v527.6h-3.0zM497.4 0h4.3v527.6h-4.3zM549.9 0h1.6v527.6h-1.6zM636.0 0h3.0v527.6h-3.0z"/><path fill="#fddbc7" d="M438.2 0h1.6v527.6h-1.6zM443.6 0h1.6v527.6h-1.6zM462.4 0h1.6v527.6h-1.6zM475.9 0h1.6v527.6h-1.6zM502.8 0h1.6v527.6h-1.6zM607.8 0h1.6v527.6h-1.6zM633.3 0h3.0v527.6h-3.0z"/><path fill="#f8bfa4" d="M446.2 0h1.6v527.6h-1.6zM455.7 0h1.6v527.6h-1.6zM479.9 0h4.3v527.6h-4.3zM501.4 0h1.6v527.6h-1.6zM504.1 0h1.6v527.6h-1.6zM535.1 0h1.6v527.6h-1.6zM609.1 0h1.6v527.6h-1.6zM632.0 0h1.6v527.6h-1.6z"/><path fill="#f3a481" d="M448.9 0h1.6v527.6h-1.6zM490.7 0h1.6v527.6h-1.6zM496.1 0h1.6v527.6h-1.6zM672.4 0h1.6v527.6h-1.6zM683.1 0h1.6v527.6h-1.6z"/><path fill="#d1e5f0" d="M450.3 0h1.6v527.6h-1.6zM516.2 0h1.6v527.6h-1.6zM537.8 0h1.6v527.6h-1.6zM568.7 0h1.6v527.6h-1.6zM593.0 0h1.6v527.6h-1.6z"/><path fill="#a2cde3" d="M508.2 0h3.0v527.6h-3.0zM676.4 0h3.0v527.6h-3.0z"/><path fill="#dae9f2" d="M539.1 0h1.6v527.6h-1.6zM562.0 0h1.6v527.6h-1.6zM591.6 0h1.6v527.6h-1.6z"/><path fill="#6bacd1" d="M578.2 0h1.6v527.6h-1.6zM583.5 0h1.6v527.6h-1.6zM673.7 0h1.6v527.6h-1.6z"/><path fill="#569fc9" d="M582.2 0h1.6v527.6h-1.6z"/></g><g id="hs"><path fill="#fae9df" d="M0 525.6h347.3v2.3h-347.3zM0 607.5h347.3v2.3h-347.3zM0 644.4h347.3v2.3h-347.3zM0 660.8h347.3v4.4h-347.3zM0 709.9h347.3v2.3h-347.3zM0 722.2h347.3v4.4h-347.3zM0 730.4h347.3v2.3h-347.3zM0 736.5h347.3v4.4h-347.3zM0 742.7h347.3v2.3h-347.3zM0 757.0h347.3v2.3h-347.3zM0 761.1h347.3v2.3h-347.3zM0 779.6h347.3v4.4h-347.3zM0 828.7h347.3v2.3h-347.3zM0 836.9h347.3v2.3h-347.3zM0 925.0h347.3v2.3h-347.3zM0 959.8h347.3v4.4h-347.3zM0 965.9h347.3v6.4h-347.3zM0 986.4h347.3v4.4h-347.3zM0 996.6h347.3v2.3h-347.3zM0 1000.7h347.3v2.3h-347.3zM0 1017.1h347.3v2.3h-347.3zM0 1039.6h347.3v2.3h-347.3z"/><path fill="#1a5899" d="M0 527.6h347.3v4.4h-347.3z"/><path fill="#2065ab" d="M0 531.7h347.3v2.3h-347.3z"/><path fill="#6bacd1" d="M0 533.8h347.3v2.3h-347.3zM0 537.9h347.3v2.3h-347.3zM0 595.2h347.3v2.3h-347.3zM0 777.5h347.3v2.3h-347.3z"/><path fill="#569fc9" d="M0 535.8h347.3v2.3h-347.3zM0 542.0h347.3v2.3h-347.3zM0 558.4h347.3v2.3h-347.3zM0 585.0h347.3v2.3h-347.3zM0 888.1h347.3v2.3h-347.3z"/><path fill="#c2ddec" d="M0 539.9h347.3v2.3h-347.3zM0 546.1h347.3v4.4h-347.3zM0 552.2h347.3v2.3h-347.3zM0 771.4h347.3v2.3h-347.3zM0 783.6h347.3v2.3h-347.3zM0 816.4h347.3v2.3h-347.3zM0 869.7h347.3v2.3h-347.3zM0 1045.8h347.3v2.3h-347.3z"/><path fill="#a2cde3" d="M0 544.0h347.3v2.3h-347.3zM0 556.3h347.3v2.3h-347.3zM0 570.7h347.3v2.3h-347.3zM0 574.8h347.3v2.3h-347.3zM0 937.2h347.3v2.3h-347.3z"/><path fill="#7eb8d7" d="M0 550.2h347.3v2.3h-347.3zM0 775.5h347.3v2.3h-347.3zM0 879.9h347.3v2.3h-347.3zM0 900.4h347.3v2.3h-347.3zM0 935.2h347.3v2.3h-347.3z"/><path fill="#b1d5e7" d="M0 554.3h347.3v2.3h-347.3zM0 560.4h347.3v2.3h-347.3zM0 572.7h347.3v2.3h-347.3zM0 695.6h347.3v2.3h-347.3zM0 785.7h347.3v2.3h-347.3zM0 818.5h347.3v2.3h-347.3zM0 841.0h347.3v2.3h-347.3zM0 1021.2h347.3v4.4h-347.3zM0 1029.4h347.3v2.3h-347.3z"/><path fill="#d1e5f0" d="M0 562.5h347.3v2.3h-347.3zM0 640.3h347.3v2.3h-347.3zM0 685.3h347.3v2.3h-347.3zM0 791.8h347.3v2.3h-347.3zM0 830.8h347.3v2.3h-347.3zM0 843.0h347.3v2.3h-347.3zM0 867.6h347.3v2.3h-347.3zM0 871.7h347.3v2.3h-347.3zM0 882.0h347.3v6.4h-347.3zM0 916.8h347.3v2.3h-347.3zM0 1041.7h347.3v4.4h-347.3zM0 1047.8h347.3v2.3h-347.3z"/><path fill="#f9f0eb" d="M0 564.5h347.3v4.4h-347.3zM0 599.3h347.3v2.3h-347.3zM0 603.4h347.3v4.4h-347.3zM0 615.7h347.3v4.4h-347.3zM0 638.2h347.3v2.3h-347.3zM0 648.5h347.3v4.4h-347.3zM0 654.6h347.3v6.4h-347.3zM0 664.9h347.3v4.4h-347.3zM0 673.1h347.3v4.4h-347.3zM0 689.4h347.3v2.3h-347.3zM0 705.8h347.3v4.4h-347.3zM0 750.9h347.3v2.3h-347.3zM0 759.1h347.3v2.3h-347.3zM0 763.2h347.3v6.4h-347.3zM0 804.1h347.3v4.4h-347.3zM0 826.7h347.3v2.3h-347.3zM0 834.8h347.3v2.3h-347.3zM0 845.1h347.3v4.4h-347.3zM0 939.3h347.3v6.4h-347.3zM0 951.6h347.3v8.5h-347.3zM0 976.2h347.3v2.3h-347.3zM0 992.5h347.3v4.4h-347.3zM0 998.7h347.3v2.3h-347.3zM0 1004.8h347.3v4.4h-347.3zM0 1011.0h347.3v6.4h-347.3z"/><path fill="#edf2f5" d="M0 568.6h347.3v2.3h-347.3zM0 576.8h347.3v2.3h-347.3zM0 580.9h347.3v2.3h-347.3zM0 626.0h347.3v2.3h-347.3zM0 720.2h347.3v2.3h-347.3zM0 795.9h347.3v2.3h-347.3zM0 808.2h347.3v2.3h-347.3zM0 812.3h347.3v2.3h-347.3zM0 820.5h347.3v4.4h-347.3zM0 853.3h347.3v2.3h-347.3zM0 873.8h347.3v4.4h-347.3zM0 892.2h347.3v2.3h-347.3zM0 949.5h347.3v2.3h-347.3zM0 978.2h347.3v4.4h-347.3zM0 990.5h347.3v2.3h-347.3zM0 1002.8h347.3v2.3h-347.3zM0 1008.9h347.3v2.3h-347.3zM0 1033.5h347.3v2.3h-347.3z"/><path fill="#dae9f2" d="M0 578.8h347.3v2.3h-347.3zM0 687.4h347.3v2.3h-347.3zM0 789.8h347.3v2.3h-347.3zM0 802.1h347.3v2.3h-347.3zM0 832.8h347.3v2.3h-347.3zM0 855.3h347.3v4.4h-347.3zM0 861.5h347.3v2.3h-347.3zM0 865.6h347.3v2.3h-347.3zM0 904.5h347.3v2.3h-347.3zM0 929.1h347.3v2.3h-347.3z"/><path fill="#e4eef4" d="M0 582.9h347.3v2.3h-347.3zM0 591.1h347.3v2.3h-347.3zM0 613.7h347.3v2.3h-347.3zM0 787.7h347.3v2.3h-347.3zM0 800.0h347.3v2.3h-347.3zM0 810.3h347.3v2.3h-347.3zM0 863.5h347.3v2.3h-347.3zM0 890.1h347.3v2.3h-347.3zM0 894.2h347.3v4.4h-347.3zM0 906.5h347.3v2.3h-347.3zM0 912.7h347.3v4.4h-347.3zM0 1031.5h347.3v2.3h-347.3zM0 1035.6h347.3v2.3h-347.3z"/><path fill="#90c4dd" d="M0 587.0h347.3v2.3h-347.3zM0 877.9h347.3v2.3h-347.3zM0 898.3h347.3v2.3h-347.3zM0 902.4h347.3v2.3h-347.3z"/><path fill="#f7f6f6" d="M0 589.1h347.3v2.3h-347.3zM0 597.3h347.3v2.3h-347.3zM0 632.1h347.3v2.3h-347.3zM0 646.4h347.3v2.3h-347.3zM0 701.7h347.3v4.4h-347.3zM0 712.0h347.3v2.3h-347.3zM0 718.1h347.3v2.3h-347.3zM0 734.5h347.3v2.3h-347.3zM0 748.8h347.3v2.3h-347.3zM0 769.3h347.3v2.3h-347.3zM0 773.4h347.3v2.3h-347.3zM0 793.9h347.3v2.3h-347.3zM0 798.0h347.3v2.3h-347.3zM0 824.6h347.3v2.3h-347.3zM0 838.9h347.3v2.3h-347.3zM0 849.2h347.3v2.3h-347.3zM0 859.4h347.3v2.3h-347.3zM0 908.6h347.3v4.4h-347.3zM0 918.8h347.3v6.4h-347.3zM0 931.1h347.3v4.4h-347.3zM0 945.4h347.3v4.4h-347.3zM0 963.9h347.3v2.3h-347.3zM0 972.1h347.3v4.4h-347.3zM0 982.3h347.3v4.4h-347.3zM0 1019.2h347.3v2.3h-347.3zM0 1025.3h347.3v4.4h-347.3z"/><path fill="#fddbc7" d="M0 593.2h347.3v2.3h-347.3zM0 601.4h347.3v2.3h-347.3zM0 634.1h347.3v2.3h-347.3zM0 642.3h347.3v2.3h-347.3zM0 652.6h347.3v2.3h-347.3zM0 677.2h347.3v4.4h-347.3zM0 683.3h347.3v2.3h-347.3zM0 691.5h347.3v4.4h-347.3zM0 752.9h347.3v4.4h-347.3z"/><path fill="#fbccb4" d="M0 609.6h347.3v4.4h-347.3zM0 681.2h347.3v2.3h-347.3zM0 716.1h347.3v2.3h-347.3zM0 728.4h347.3v2.3h-347.3zM0 744.7h347.3v2.3h-347.3z"/><path fill="#fce2d2" d="M0 619.8h347.3v6.4h-347.3zM0 628.0h347.3v4.4h-347.3zM0 636.2h347.3v2.3h-347.3zM0 732.4h347.3v2.3h-347.3zM0 740.6h347.3v2.3h-347.3zM0 814.4h347.3v2.3h-347.3zM0 851.2h347.3v2.3h-347.3zM0 927.0h347.3v2.3h-347.3zM0 1037.6h347.3v2.3h-347.3z"/><path fill="#f3a481" d="M0 669.0h347.3v2.3h-347.3z"/><path fill="#f8bfa4" d="M0 671.0h347.3v2.3h-347.3zM0 697.6h347.3v2.3h-347.3zM0 714.0h347.3v2.3h-347.3zM0 726.3h347.3v2.3h-347.3zM0 746.8h347.3v2.3h-347.3z"/><path fill="#f6b394" d="M0 699.7h347.3v2.3h-347.3z"/></g><rect x="390" y="230" width="68" height="295.6" fill="url(#urr)" opacity="0.90"/><rect x="486" y="230" width="26" height="295.6" fill="url(#urr)" opacity="0.80"/><rect x="458" y="230" width="28" height="295.6" fill="url(#urr)" opacity="0.35"/><rect x="370" y="230" width="20" height="295.6" fill="url(#urr)" opacity="0.30"/><rect x="345.3" y="243" width="28" height="38" fill="url(#urb)" opacity="0.45"/><rect x="345.3" y="0" width="20" height="525.6" fill="url(#urb)"/><rect x="120" y="588" width="225.3" height="108" fill="url(#llr)"/><rect x="255" y="590" width="90.3" height="100" fill="url(#llr2)"/><rect x="150" y="700" width="195.3" height="80" fill="url(#llr)" opacity="0.6"/><rect x="345.3" y="525.6" width="343.7" height="522.7" fill="#e4eef4"/><rect x="345.3" y="534.5" width="107.4" height="152.1" fill="#eaf1f5"/><rect x="452.7" y="534.5" width="63.7" height="54.0" fill="#3783bb"/><rect x="516.4" y="534.5" width="172.6" height="54.0" fill="#2065ab"/><rect x="516.4" y="563.0" width="68.6" height="19.0" fill="#124984"/><rect x="452.7" y="588.5" width="236.3" height="7.3" fill="#f9ebe3"/><rect x="452.7" y="595.8" width="63.7" height="90.8" fill="#6bacd1"/><rect x="516.4" y="595.8" width="61.6" height="90.8" fill="#3783bb"/><rect x="578.0" y="595.8" width="111.0" height="90.8" fill="#4393c3"/><rect x="516.4" y="688.0" width="172.6" height="7.0" fill="#fddbc7"/><rect x="516.4" y="695.0" width="61.6" height="54.0" fill="#3783bb"/><rect x="578.0" y="695.0" width="111.0" height="54.0" fill="#7eb8d7"/><rect x="516.4" y="749.0" width="76.2" height="29.0" fill="#e0ecf3"/><rect x="345.3" y="686.6" width="25.7" height="99.9" fill="#124984"/><rect x="371.0" y="686.6" width="145.4" height="83.4" fill="#8ac0db"/><rect x="345.3" y="770.0" width="171.1" height="16.5" fill="#2a71b2"/><rect x="345.3" y="786.5" width="40.7" height="261.8" fill="#2b73b3"/><rect x="386.0" y="786.5" width="116.4" height="118.5" fill="#529dc8"/><rect x="386.0" y="905.0" width="116.4" height="143.3" fill="#8ac0db"/><rect x="516.4" y="788.5" width="172.6" height="259.8" fill="#fae9df"/><use href="#vs" y="525.6" opacity="0.18"/><use href="#hs" x="345.3" opacity="0.18"/><path fill="#f7f7f7" opacity="0.42" d="M505.4 534.6h2.7v513.7h-2.7zM505.2 534.6h1.4v513.7h-1.4zM416.6 534.6h2.7v513.7h-2.7zM564.2 534.6h1.4v513.7h-1.4zM386.5 534.6h1.4v513.7h-1.4zM402.3 534.6h1.4v513.7h-1.4zM552.8 534.6h2.7v513.7h-2.7zM675.3 534.6h1.4v513.7h-1.4zM562.0 534.6h1.4v513.7h-1.4zM375.1 534.6h1.4v513.7h-1.4zM647.1 534.6h1.4v513.7h-1.4zM613.4 534.6h1.4v513.7h-1.4zM501.4 534.6h1.4v513.7h-1.4zM527.5 534.6h1.4v513.7h-1.4zM521.1 534.6h1.4v513.7h-1.4zM507.0 534.6h1.4v513.7h-1.4zM490.2 534.6h1.4v513.7h-1.4zM590.1 534.6h1.4v513.7h-1.4zM606.7 534.6h1.4v513.7h-1.4zM365.2 534.6h1.4v513.7h-1.4zM488.1 534.6h1.4v513.7h-1.4zM483.5 534.6h1.4v513.7h-1.4zM636.4 534.6h1.4v513.7h-1.4zM426.1 534.6h1.4v513.7h-1.4zM511.2 534.6h2.7v513.7h-2.7zM494.5 534.6h1.4v513.7h-1.4zM613.5 534.6h1.4v513.7h-1.4zM467.0 534.6h1.4v513.7h-1.4zM465.6 534.6h2.7v513.7h-2.7zM606.7 534.6h1.4v513.7h-1.4zM399.9 534.6h1.4v513.7h-1.4zM358.9 534.6h2.7v513.7h-2.7zM619.7 534.6h1.4v513.7h-1.4zM581.5 534.6h1.4v513.7h-1.4zM503.7 534.6h1.4v513.7h-1.4zM682.1 534.6h1.4v513.7h-1.4zM494.4 534.6h2.7v513.7h-2.7zM393.9 534.6h2.7v513.7h-2.7zM683.7 534.6h1.4v513.7h-1.4zM444.8 534.6h1.4v513.7h-1.4zM686.3 534.6h1.4v513.7h-1.4zM425.2 534.6h2.7v513.7h-2.7zM685.6 534.6h1.4v513.7h-1.4zM369.3 534.6h1.4v513.7h-1.4zM426.0 534.6h1.4v513.7h-1.4zM358.5 534.6h1.4v513.7h-1.4zM354.3 959.6h334.7v4.1h-334.7zM354.3 573.1h334.7v2.0h-334.7zM354.3 642.2h334.7v2.0h-334.7zM354.3 543.5h334.7v2.0h-334.7zM354.3 725.4h334.7v4.1h-334.7zM354.3 600.6h334.7v4.1h-334.7zM354.3 960.7h334.7v2.0h-334.7zM354.3 978.1h334.7v2.0h-334.7zM354.3 855.9h334.7v2.0h-334.7zM354.3 999.5h334.7v2.0h-334.7zM354.3 906.1h334.7v2.0h-334.7zM354.3 913.2h334.7v2.0h-334.7zM354.3 886.4h334.7v4.1h-334.7zM354.3 986.1h334.7v2.0h-334.7zM354.3 750.8h334.7v2.0h-334.7zM354.3 591.3h334.7v2.0h-334.7zM354.3 657.4h334.7v4.1h-334.7zM354.3 666.8h334.7v4.1h-334.7zM354.3 685.5h334.7v2.0h-334.7zM354.3 1010.2h334.7v2.0h-334.7zM354.3 600.2h334.7v4.1h-334.7zM354.3 821.3h334.7v2.0h-334.7zM354.3 678.7h334.7v2.0h-334.7zM354.3 918.1h334.7v2.0h-334.7zM354.3 673.1h334.7v4.1h-334.7zM354.3 662.8h334.7v2.0h-334.7zM354.3 625.6h334.7v2.0h-334.7zM354.3 806.8h334.7v2.0h-334.7zM354.3 582.7h334.7v2.0h-334.7zM354.3 990.6h334.7v2.0h-334.7zM354.3 871.1h334.7v2.0h-334.7zM354.3 836.8h334.7v2.0h-334.7zM354.3 778.1h334.7v2.0h-334.7zM354.3 893.6h334.7v2.0h-334.7zM354.3 546.5h334.7v2.0h-334.7zM354.3 781.9h334.7v2.0h-334.7zM354.3 698.5h334.7v2.0h-334.7zM354.3 574.0h334.7v2.0h-334.7zM354.3 912.0h334.7v2.0h-334.7zM354.3 940.7h334.7v2.0h-334.7zM354.3 715.3h334.7v4.1h-334.7zM354.3 995.7h334.7v4.1h-334.7zM354.3 1017.8h334.7v2.0h-334.7zM354.3 976.6h334.7v2.0h-334.7zM354.3 854.8h334.7v4.1h-334.7zM354.3 729.2h334.7v2.0h-334.7z"/><path fill="#2065ab" opacity="0.32" d="M557.3 534.6h1.4v251.9h-1.4zM385.4 534.6h1.4v513.7h-1.4zM684.8 534.6h1.4v251.9h-1.4zM596.8 534.6h1.4v251.9h-1.4zM665.2 534.6h2.7v251.9h-2.7zM548.0 534.6h1.4v251.9h-1.4zM508.8 534.6h2.7v513.7h-2.7zM383.1 534.6h2.7v513.7h-2.7zM365.2 534.6h2.7v513.7h-2.7zM384.4 534.6h1.4v513.7h-1.4zM431.7 534.6h2.7v513.7h-2.7zM392.7 534.6h2.7v513.7h-2.7zM574.3 534.6h1.4v251.9h-1.4zM440.2 534.6h1.4v513.7h-1.4zM477.3 534.6h1.4v513.7h-1.4zM580.2 534.6h1.4v251.9h-1.4zM527.3 534.6h1.4v251.9h-1.4zM574.2 534.6h1.4v251.9h-1.4zM520.6 534.6h1.4v251.9h-1.4zM463.8 534.6h2.7v513.7h-2.7zM438.4 534.6h2.7v513.7h-2.7zM498.2 534.6h1.4v513.7h-1.4zM647.3 534.6h1.4v251.9h-1.4zM428.1 534.6h1.4v513.7h-1.4zM424.9 534.6h1.4v513.7h-1.4zM520.0 534.6h1.4v251.9h-1.4zM591.2 534.6h1.4v251.9h-1.4zM627.9 534.6h1.4v251.9h-1.4zM504.8 534.6h1.4v513.7h-1.4zM662.4 534.6h1.4v251.9h-1.4zM354.3 731.0h334.7v4.1h-334.7zM354.3 787.8h162.1v2.0h-162.1zM354.3 901.4h162.1v4.1h-162.1zM354.3 766.7h334.7v2.0h-334.7zM354.3 958.8h162.1v2.0h-162.1zM354.3 981.4h162.1v2.0h-162.1zM354.3 882.0h162.1v2.0h-162.1zM354.3 827.0h162.1v2.0h-162.1zM354.3 867.2h162.1v4.1h-162.1zM354.3 545.4h334.7v2.0h-334.7zM354.3 742.5h334.7v2.0h-334.7zM354.3 548.2h334.7v2.0h-334.7zM354.3 656.8h334.7v2.0h-334.7zM354.3 942.5h162.1v4.1h-162.1zM354.3 594.5h334.7v2.0h-334.7zM354.3 857.3h162.1v4.1h-162.1zM354.3 862.4h162.1v2.0h-162.1zM354.3 1025.1h162.1v4.1h-162.1zM354.3 636.7h334.7v2.0h-334.7zM354.3 666.4h334.7v4.1h-334.7zM354.3 541.1h334.7v2.0h-334.7zM354.3 808.7h162.1v2.0h-162.1zM354.3 627.1h334.7v2.0h-334.7zM354.3 933.2h162.1v4.1h-162.1zM354.3 891.7h162.1v4.1h-162.1zM354.3 791.2h162.1v2.0h-162.1zM354.3 736.6h334.7v4.1h-334.7zM354.3 998.4h162.1v2.0h-162.1zM354.3 745.2h334.7v4.1h-334.7zM354.3 733.7h334.7v2.0h-334.7z"/><rect x="345.3" y="876.0" width="157.1" height="13.0" fill="#1a5899" opacity="0.85"/><rect x="345.3" y="905.0" width="157.1" height="8.0" fill="#4393c3" opacity="0.60"/><rect x="345.3" y="925.0" width="157.1" height="6.0" fill="#4393c3" opacity="0.50"/><rect x="516.4" y="879.0" width="172.6" height="34.0" fill="#f8bfa4" opacity="0.50"/><rect x="499.4" y="786.5" width="21" height="261.8" fill="url(#lrv)"/><rect x="592.6" y="749" width="96.4" height="30" fill="url(#lrh)"/><rect x="516.4" y="777.5" width="172.6" height="9.5" fill="url(#lrh2)"/><rect x="516.4" y="787.0" width="172.6" height="7.0" fill="#f6b394" opacity="0.60"/><rect x="345.3" y="591.0" width="107.4" height="5.0" fill="#cc4c44" opacity="0.85"/><rect x="345.3" y="609.0" width="159.7" height="3.5" fill="#e48066" opacity="0.70"/><rect x="345.3" y="560.5" width="107.4" height="2.5" fill="#f3a481" opacity="0.60"/><rect x="388.5" y="534.5" width="4.0" height="130.5" fill="#e48066" opacity="0.65"/><rect x="370.5" y="534.5" width="4.5" height="28.5" fill="#dd7059" opacity="0.65"/><rect x="516.4" y="534.5" width="3.0" height="252.0" fill="#1a5899" opacity="0.85"/><rect x="577.0" y="534.5" width="5.0" height="215.5" fill="#1a5899" opacity="0.75"/><rect x="452.7" y="534.5" width="4.3" height="55.5" fill="#2a71b2" opacity="0.75"/><rect x="508.0" y="534.5" width="8.4" height="55.5" fill="#2065ab" opacity="0.75"/><rect x="594.0" y="534.5" width="4.0" height="53.5" fill="#2065ab" opacity="0.50"/><rect x="640.0" y="534.5" width="4.0" height="53.5" fill="#b1d5e7" opacity="0.50"/><rect x="0.0" y="518.1" width="345.3" height="16.0" fill="#08366a"/><rect x="0.0" y="504.6" width="345.3" height="13.5" fill="#a2cde3" opacity="0.50"/><rect x="345.3" y="524.1" width="343.7" height="11" fill="url(#lrt)"/><rect x="345.3" y="518.1" width="175.0" height="6" fill="url(#lrt)" opacity="0.85"/><rect x="341.8" y="0.0" width="7.5" height="518.6" fill="#0c3d73"/><rect x="341.8" y="525.6" width="12.0" height="161.0" fill="#67001f"/><rect x="353.8" y="533.6" width="3.5" height="153.0" fill="#c43b3c" opacity="0.50"/><rect x="341.8" y="686.6" width="12.5" height="361.7" fill="#08366a"/><rect x="331.3" y="0" width="14" height="518.6" fill="url(#ulb)"/><path d="M351.3 534.6L689.0 1048.3" stroke="#c9d9e6" stroke-width="2" opacity="0.7"/><path d="M351.3 534.6L689.0 1048.3" stroke="#8a1025" stroke-width="3.5" stroke-dasharray="4 13 7 21 3 9 6 30" opacity="0.9"/><path d="M351.3 534.6L689.0 1048.3" stroke="#1f5fa5" stroke-width="3.5" stroke-dasharray="5 17 3 11 6 25 4 8" stroke-dashoffset="9" opacity="0.9"/></g>
<path d="M2797.25 1598.70V550.40" stroke="#000000" stroke-opacity="0.9" stroke-width="3.33" stroke-dasharray="12.33 5.33" fill="none"/>
<path d="M2799.15 1598.70V550.40" stroke="#000000" stroke-opacity="0.9" stroke-width="3.33" stroke-dasharray="12.33 5.33" fill="none"/>
<path d="M2453.00 1074.60H3142.00" stroke="#000000" stroke-opacity="0.9" stroke-width="3.33" stroke-dasharray="12.33 5.33" fill="none"/>
<path d="M2453.00 1077.50H3142.00" stroke="#000000" stroke-opacity="0.9" stroke-width="3.33" stroke-dasharray="12.33 5.33" fill="none"/>
<rect x="2453.00" y="550.40" width="689.00" height="1048.30" fill="none" stroke="#000" stroke-width="2.22"/>
<text x="2797.50" y="534.00" font-size="25.75" text-anchor="middle" font-weight="bold" textLength="201.71" lengthAdjust="spacingAndGlyphs" xml:space="preserve">Deletion − WT</text>
<path d="M2577.52 1598.70v10.83" stroke="#000" stroke-width="2.22"/>
<path d="M2453.00 739.85h-10.83" stroke="#000" stroke-width="2.22"/>
<text x="2577.52" y="1640.80" font-size="28.61" text-anchor="middle" textLength="141.39" lengthAdjust="spacingAndGlyphs" xml:space="preserve">27000000</text>
<text x="2433.70" y="750.25" font-size="28.61" text-anchor="end" textLength="141.39" lengthAdjust="spacingAndGlyphs" xml:space="preserve">27000000</text>
<path d="M2708.93 1598.70v10.83" stroke="#000" stroke-width="2.22"/>
<path d="M2453.00 939.80h-10.83" stroke="#000" stroke-width="2.22"/>
<text x="2708.93" y="1640.80" font-size="28.61" text-anchor="middle" textLength="141.39" lengthAdjust="spacingAndGlyphs" xml:space="preserve">27200000</text>
<text x="2433.70" y="950.20" font-size="28.61" text-anchor="end" textLength="141.39" lengthAdjust="spacingAndGlyphs" xml:space="preserve">27200000</text>
<path d="M2840.35 1598.70v10.83" stroke="#000" stroke-width="2.22"/>
<path d="M2453.00 1139.74h-10.83" stroke="#000" stroke-width="2.22"/>
<text x="2840.35" y="1640.80" font-size="28.61" text-anchor="middle" textLength="141.39" lengthAdjust="spacingAndGlyphs" xml:space="preserve">27400000</text>
<text x="2433.70" y="1150.14" font-size="28.61" text-anchor="end" textLength="141.39" lengthAdjust="spacingAndGlyphs" xml:space="preserve">27400000</text>
<path d="M2971.76 1598.70v10.83" stroke="#000" stroke-width="2.22"/>
<path d="M2453.00 1339.69h-10.83" stroke="#000" stroke-width="2.22"/>
<text x="2971.76" y="1640.80" font-size="28.61" text-anchor="middle" textLength="141.39" lengthAdjust="spacingAndGlyphs" xml:space="preserve">27600000</text>
<text x="2433.70" y="1350.09" font-size="28.61" text-anchor="end" textLength="141.39" lengthAdjust="spacingAndGlyphs" xml:space="preserve">27600000</text>
<path d="M3103.18 1598.70v10.83" stroke="#000" stroke-width="2.22"/>
<path d="M2453.00 1539.64h-10.83" stroke="#000" stroke-width="2.22"/>
<text x="3103.18" y="1640.80" font-size="28.61" text-anchor="middle" textLength="141.39" lengthAdjust="spacingAndGlyphs" xml:space="preserve">27800000</text>
<text x="2433.70" y="1550.04" font-size="28.61" text-anchor="end" textLength="141.39" lengthAdjust="spacingAndGlyphs" xml:space="preserve">27800000</text>
<text x="2797.50" y="1675.70" font-size="22.89" text-anchor="middle" textLength="139.14" lengthAdjust="spacingAndGlyphs" xml:space="preserve">Position (bp)</text>
<text x="2275.00" y="1076.05" font-size="22.89" text-anchor="middle" textLength="139.14" lengthAdjust="spacingAndGlyphs" transform="rotate(-90 2275.00 1076.05)" xml:space="preserve">Position (bp)</text>
<rect x="3184.90" y="655.80" width="41.50" height="838.80" fill="url(#gRdBu)" stroke="#000" stroke-width="2.22"/>
<path d="M3226.40 1465.60h10.83" stroke="#000" stroke-width="2.22"/>
<text x="3246.70" y="1476.00" font-size="28.61" text-anchor="start" textLength="85.12" lengthAdjust="spacingAndGlyphs" xml:space="preserve">−0.08</text>
<path d="M3226.40 1368.00h10.83" stroke="#000" stroke-width="2.22"/>
<text x="3246.70" y="1378.40" font-size="28.61" text-anchor="start" textLength="85.12" lengthAdjust="spacingAndGlyphs" xml:space="preserve">−0.06</text>
<path d="M3226.40 1270.40h10.83" stroke="#000" stroke-width="2.22"/>
<text x="3246.70" y="1280.80" font-size="28.61" text-anchor="start" textLength="85.12" lengthAdjust="spacingAndGlyphs" xml:space="preserve">−0.04</text>
<path d="M3226.40 1172.80h10.83" stroke="#000" stroke-width="2.22"/>
<text x="3246.70" y="1183.20" font-size="28.61" text-anchor="start" textLength="85.12" lengthAdjust="spacingAndGlyphs" xml:space="preserve">−0.02</text>
<path d="M3226.40 1075.20h10.83" stroke="#000" stroke-width="2.22"/>
<text x="3246.70" y="1085.60" font-size="28.61" text-anchor="start" textLength="61.85" lengthAdjust="spacingAndGlyphs" xml:space="preserve">0.00</text>
<path d="M3226.40 977.60h10.83" stroke="#000" stroke-width="2.22"/>
<text x="3246.70" y="988.00" font-size="28.61" text-anchor="start" textLength="61.85" lengthAdjust="spacingAndGlyphs" xml:space="preserve">0.02</text>
<path d="M3226.40 880.00h10.83" stroke="#000" stroke-width="2.22"/>
<text x="3246.70" y="890.40" font-size="28.61" text-anchor="start" textLength="61.85" lengthAdjust="spacingAndGlyphs" xml:space="preserve">0.04</text>
<path d="M3226.40 782.40h10.83" stroke="#000" stroke-width="2.22"/>
<text x="3246.70" y="792.80" font-size="28.61" text-anchor="start" textLength="61.85" lengthAdjust="spacingAndGlyphs" xml:space="preserve">0.06</text>
<path d="M3226.40 684.80h10.83" stroke="#000" stroke-width="2.22"/>
<text x="3246.70" y="695.20" font-size="28.61" text-anchor="start" textLength="61.85" lengthAdjust="spacingAndGlyphs" xml:space="preserve">0.08</text>
<text x="3362.00" y="1076.00" font-size="28.61" text-anchor="middle" textLength="208.88" lengthAdjust="spacingAndGlyphs" transform="rotate(-90 3362.00 1076.00)" xml:space="preserve">Δ Contact freq.</text>
</svg>
</body></html>
